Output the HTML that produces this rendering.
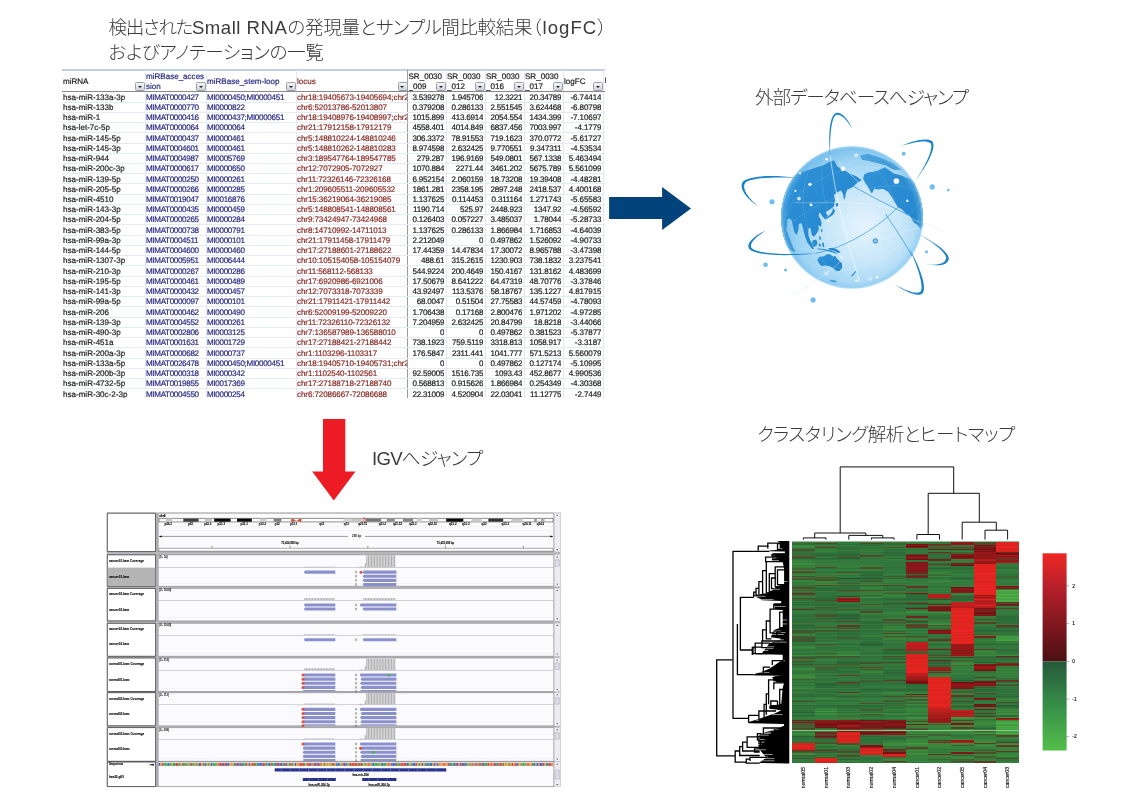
<!DOCTYPE html>
<html lang="ja"><head><meta charset="utf-8"><title>Small RNA</title>
<style>
html,body{margin:0;padding:0;background:#fff}
body{width:1139px;height:809px;position:relative;overflow:hidden;font-family:"Liberation Sans","Noto Sans CJK JP",sans-serif}

.tt{position:absolute;font-family:"Liberation Sans","Noto Sans CJK JP",sans-serif;font-weight:300;color:#3a3a3a;white-space:nowrap;font-size:18.6px;line-height:24px;font-feature-settings:"palt"}

#tbl{position:absolute;overflow:hidden;font:8.05px/10.24px "Liberation Sans",sans-serif;color:#222;white-space:nowrap;background:#fff;-webkit-text-stroke:0.2px;text-rendering:geometricPrecision}
#tbl .hb{position:absolute;left:0;top:0;width:543px;height:2.4px;background:linear-gradient(#c9d6ec,#b4c5e3 60%,#d5dff0)}
#tbl .vl{position:absolute;top:1px;width:1px;height:400px;background:#e3e8f2}
#tbl .vl.fz{background:#9a9aa0}
#tbl .hl{position:absolute;left:0;width:543px;height:1px;background:#e6eaf3}
#tbl .hl.hd{background:#8a8a8a;height:1px}
#tbl .th{position:absolute;line-height:9.6px;font-size:8.05px;overflow:hidden}
#tbl .dd{position:absolute;width:8px;height:7.6px;border:0.6px solid #9a9fa8;border-radius:1.5px;background:linear-gradient(#f4f5f7,#cfd3da)}
#tbl .dd i{position:absolute;left:1.8px;top:2.8px;border:2.2px solid transparent;border-top:2.5px solid #222;border-bottom:0}
#tbl .tr{position:absolute;left:0;height:10.24px;width:100%}
#tbl .tr span{position:absolute;top:1.3px;overflow:hidden;height:10.24px}
#tbl .k{color:#1c1c1c}#tbl .b{color:#2a2a86}#tbl .r{color:#8a2b25}
#tbl .n{text-align:right;color:#1c1c1c;letter-spacing:-0.2px}
#tbl .c1{letter-spacing:-0.33px}#tbl .c2{letter-spacing:-0.3px}#tbl .c3{letter-spacing:-0.1px}#tbl .c8{letter-spacing:-0.1px}

</style></head><body>
<div class="tt" style="left:108.5px;top:15.5px"><span style="letter-spacing:-1.34px">検出された</span><span style="letter-spacing:0.5px">Small RNA</span><span style="letter-spacing:-0.3px">の発現量と</span><span style="letter-spacing:-0.7px">サンプル</span><span style="letter-spacing:-0.4px">間比較結果</span><span style="letter-spacing:1.05px">（logFC）</span></div>
<div class="tt" style="left:108.5px;top:40.5px;letter-spacing:-0.36px">およびアノテーションの一覧</div>
<div class="tt" style="left:755px;top:85.5px;letter-spacing:-1.05px">外部データベースへジャンプ</div>
<div class="tt" style="left:372px;top:446.5px;letter-spacing:-0.75px">IGVへジャンプ</div>
<div class="tt" style="left:757px;top:423px;letter-spacing:-0.47px">クラスタリング解析とヒートマップ</div>
<div id="tbl" style="left:62px;top:69px;width:544px;height:329px">
<div class="hb"></div>
<div class="vl" style="left:82.5px"></div>
<div class="vl" style="left:143.5px"></div>
<div class="vl" style="left:233.5px"></div>
<div class="vl fz" style="left:345.0px"></div>
<div class="vl" style="left:383.5px"></div>
<div class="vl" style="left:422.5px"></div>
<div class="vl" style="left:461.5px"></div>
<div class="vl" style="left:500.5px"></div>
<div class="vl" style="left:540.5px"></div>
<div class="hl" style="top:32.54px"></div>
<div class="hl" style="top:42.78px"></div>
<div class="hl" style="top:53.02px"></div>
<div class="hl" style="top:63.26px"></div>
<div class="hl" style="top:73.50px"></div>
<div class="hl" style="top:83.74px"></div>
<div class="hl" style="top:93.98px"></div>
<div class="hl" style="top:104.22px"></div>
<div class="hl" style="top:114.46px"></div>
<div class="hl" style="top:124.70px"></div>
<div class="hl" style="top:134.94px"></div>
<div class="hl" style="top:145.18px"></div>
<div class="hl" style="top:155.42px"></div>
<div class="hl" style="top:165.66px"></div>
<div class="hl" style="top:175.90px"></div>
<div class="hl" style="top:186.14px"></div>
<div class="hl" style="top:196.38px"></div>
<div class="hl" style="top:206.62px"></div>
<div class="hl" style="top:216.86px"></div>
<div class="hl" style="top:227.10px"></div>
<div class="hl" style="top:237.34px"></div>
<div class="hl" style="top:247.58px"></div>
<div class="hl" style="top:257.82px"></div>
<div class="hl" style="top:268.06px"></div>
<div class="hl" style="top:278.30px"></div>
<div class="hl" style="top:288.54px"></div>
<div class="hl" style="top:298.78px"></div>
<div class="hl" style="top:309.02px"></div>
<div class="hl" style="top:319.26px"></div>
<div class="hl" style="top:329.50px"></div>
<div class="hl hd" style="top:21.80px"></div>
<div class="th k" style="left:1.0px;top:8.4px;width:82.0px">miRNA</div>
<div class="dd" style="left:73.2px;top:12.9px"><i></i></div>
<div class="th b" style="left:84.0px;top:3.3px;width:60.0px">miRBase_acces<br>sion</div>
<div class="dd" style="left:134.2px;top:12.9px"><i></i></div>
<div class="th b" style="left:145.0px;top:8.4px;width:89.0px">miRBase_stem-loop</div>
<div class="dd" style="left:224.2px;top:12.9px"><i></i></div>
<div class="th r" style="left:235.0px;top:8.4px;width:110.5px">locus</div>
<div class="dd" style="left:335.7px;top:12.9px"><i></i></div>
<div class="th k" style="left:346.5px;top:3.3px;width:37.5px">SR_0030<br>_009</div>
<div class="dd" style="left:374.2px;top:12.9px"><i></i></div>
<div class="th k" style="left:385.0px;top:3.3px;width:38.0px">SR_0030<br>_012</div>
<div class="dd" style="left:413.2px;top:12.9px"><i></i></div>
<div class="th k" style="left:424.0px;top:3.3px;width:38.0px">SR_0030<br>_016</div>
<div class="dd" style="left:452.2px;top:12.9px"><i></i></div>
<div class="th k" style="left:463.0px;top:3.3px;width:38.0px">SR_0030<br>_017</div>
<div class="dd" style="left:491.2px;top:12.9px"><i></i></div>
<div class="th k" style="left:502.0px;top:8.4px;width:39.0px">logFC</div>
<div class="dd" style="left:531.2px;top:12.9px"><i></i></div>
<div class="th b" style="left:542.5px;top:6.5px">I</div>
<div class="tr" style="top:22.30px">
<span class="k c0" style="left:1.0px;width:81.5px">hsa-miR-133a-3p</span>
<span class="b c1" style="left:84.0px;width:59.5px">MIMAT0000427</span>
<span class="b c2" style="left:145.0px;width:88.5px">MI0000450;MI0000451</span>
<span class="r c3" style="left:235.0px;width:110.0px">chr18:19405673-19405694;chr2</span>
<span class="n c4" style="left:345.5px;width:36.9px">3.539278</span>
<span class="n c5" style="left:384.0px;width:37.4px">1.945706</span>
<span class="n c6" style="left:423.0px;width:37.4px">12.3221</span>
<span class="n c7" style="left:462.0px;width:37.4px">20.34789</span>
<span class="n c8" style="left:501.0px;width:38.4px">-6.74414</span>
</div>
<div class="tr" style="top:32.54px">
<span class="k c0" style="left:1.0px;width:81.5px">hsa-miR-133b</span>
<span class="b c1" style="left:84.0px;width:59.5px">MIMAT0000770</span>
<span class="b c2" style="left:145.0px;width:88.5px">MI0000822</span>
<span class="r c3" style="left:235.0px;width:110.0px">chr6:52013786-52013807</span>
<span class="n c4" style="left:345.5px;width:36.9px">0.379208</span>
<span class="n c5" style="left:384.0px;width:37.4px">0.286133</span>
<span class="n c6" style="left:423.0px;width:37.4px">2.551545</span>
<span class="n c7" style="left:462.0px;width:37.4px">3.624468</span>
<span class="n c8" style="left:501.0px;width:38.4px">-6.80798</span>
</div>
<div class="tr" style="top:42.78px">
<span class="k c0" style="left:1.0px;width:81.5px">hsa-miR-1</span>
<span class="b c1" style="left:84.0px;width:59.5px">MIMAT0000416</span>
<span class="b c2" style="left:145.0px;width:88.5px">MI0000437;MI0000651</span>
<span class="r c3" style="left:235.0px;width:110.0px">chr18:19408976-19408997;chr2</span>
<span class="n c4" style="left:345.5px;width:36.9px">1015.899</span>
<span class="n c5" style="left:384.0px;width:37.4px">413.6914</span>
<span class="n c6" style="left:423.0px;width:37.4px">2054.554</span>
<span class="n c7" style="left:462.0px;width:37.4px">1434.399</span>
<span class="n c8" style="left:501.0px;width:38.4px">-7.10697</span>
</div>
<div class="tr" style="top:53.02px">
<span class="k c0" style="left:1.0px;width:81.5px">hsa-let-7c-5p</span>
<span class="b c1" style="left:84.0px;width:59.5px">MIMAT0000064</span>
<span class="b c2" style="left:145.0px;width:88.5px">MI0000064</span>
<span class="r c3" style="left:235.0px;width:110.0px">chr21:17912158-17912179</span>
<span class="n c4" style="left:345.5px;width:36.9px">4558.401</span>
<span class="n c5" style="left:384.0px;width:37.4px">4014.849</span>
<span class="n c6" style="left:423.0px;width:37.4px">6837.456</span>
<span class="n c7" style="left:462.0px;width:37.4px">7003.997</span>
<span class="n c8" style="left:501.0px;width:38.4px">-4.1779</span>
</div>
<div class="tr" style="top:63.26px">
<span class="k c0" style="left:1.0px;width:81.5px">hsa-miR-145-5p</span>
<span class="b c1" style="left:84.0px;width:59.5px">MIMAT0000437</span>
<span class="b c2" style="left:145.0px;width:88.5px">MI0000461</span>
<span class="r c3" style="left:235.0px;width:110.0px">chr5:148810224-148810246</span>
<span class="n c4" style="left:345.5px;width:36.9px">306.3372</span>
<span class="n c5" style="left:384.0px;width:37.4px">78.91553</span>
<span class="n c6" style="left:423.0px;width:37.4px">719.1623</span>
<span class="n c7" style="left:462.0px;width:37.4px">370.0772</span>
<span class="n c8" style="left:501.0px;width:38.4px">-5.61727</span>
</div>
<div class="tr" style="top:73.50px">
<span class="k c0" style="left:1.0px;width:81.5px">hsa-miR-145-3p</span>
<span class="b c1" style="left:84.0px;width:59.5px">MIMAT0004601</span>
<span class="b c2" style="left:145.0px;width:88.5px">MI0000461</span>
<span class="r c3" style="left:235.0px;width:110.0px">chr5:148810262-148810283</span>
<span class="n c4" style="left:345.5px;width:36.9px">8.974598</span>
<span class="n c5" style="left:384.0px;width:37.4px">2.632425</span>
<span class="n c6" style="left:423.0px;width:37.4px">9.770551</span>
<span class="n c7" style="left:462.0px;width:37.4px">9.347311</span>
<span class="n c8" style="left:501.0px;width:38.4px">-4.53534</span>
</div>
<div class="tr" style="top:83.74px">
<span class="k c0" style="left:1.0px;width:81.5px">hsa-miR-944</span>
<span class="b c1" style="left:84.0px;width:59.5px">MIMAT0004987</span>
<span class="b c2" style="left:145.0px;width:88.5px">MI0005769</span>
<span class="r c3" style="left:235.0px;width:110.0px">chr3:189547764-189547785</span>
<span class="n c4" style="left:345.5px;width:36.9px">279.287</span>
<span class="n c5" style="left:384.0px;width:37.4px">196.9169</span>
<span class="n c6" style="left:423.0px;width:37.4px">549.0801</span>
<span class="n c7" style="left:462.0px;width:37.4px">567.1338</span>
<span class="n c8" style="left:501.0px;width:38.4px">5.463494</span>
</div>
<div class="tr" style="top:93.98px">
<span class="k c0" style="left:1.0px;width:81.5px">hsa-miR-200c-3p</span>
<span class="b c1" style="left:84.0px;width:59.5px">MIMAT0000617</span>
<span class="b c2" style="left:145.0px;width:88.5px">MI0000650</span>
<span class="r c3" style="left:235.0px;width:110.0px">chr12:7072905-7072927</span>
<span class="n c4" style="left:345.5px;width:36.9px">1070.884</span>
<span class="n c5" style="left:384.0px;width:37.4px">2271.44</span>
<span class="n c6" style="left:423.0px;width:37.4px">3461.202</span>
<span class="n c7" style="left:462.0px;width:37.4px">5675.789</span>
<span class="n c8" style="left:501.0px;width:38.4px">5.561099</span>
</div>
<div class="tr" style="top:104.22px">
<span class="k c0" style="left:1.0px;width:81.5px">hsa-miR-139-5p</span>
<span class="b c1" style="left:84.0px;width:59.5px">MIMAT0000250</span>
<span class="b c2" style="left:145.0px;width:88.5px">MI0000261</span>
<span class="r c3" style="left:235.0px;width:110.0px">chr11:72326146-72326168</span>
<span class="n c4" style="left:345.5px;width:36.9px">6.952154</span>
<span class="n c5" style="left:384.0px;width:37.4px">2.060159</span>
<span class="n c6" style="left:423.0px;width:37.4px">18.73208</span>
<span class="n c7" style="left:462.0px;width:37.4px">19.39408</span>
<span class="n c8" style="left:501.0px;width:38.4px">-4.48281</span>
</div>
<div class="tr" style="top:114.46px">
<span class="k c0" style="left:1.0px;width:81.5px">hsa-miR-205-5p</span>
<span class="b c1" style="left:84.0px;width:59.5px">MIMAT0000266</span>
<span class="b c2" style="left:145.0px;width:88.5px">MI0000285</span>
<span class="r c3" style="left:235.0px;width:110.0px">chr1:209605511-209605532</span>
<span class="n c4" style="left:345.5px;width:36.9px">1861.281</span>
<span class="n c5" style="left:384.0px;width:37.4px">2358.195</span>
<span class="n c6" style="left:423.0px;width:37.4px">2897.248</span>
<span class="n c7" style="left:462.0px;width:37.4px">2418.537</span>
<span class="n c8" style="left:501.0px;width:38.4px">4.400168</span>
</div>
<div class="tr" style="top:124.70px">
<span class="k c0" style="left:1.0px;width:81.5px">hsa-miR-4510</span>
<span class="b c1" style="left:84.0px;width:59.5px">MIMAT0019047</span>
<span class="b c2" style="left:145.0px;width:88.5px">MI0016876</span>
<span class="r c3" style="left:235.0px;width:110.0px">chr15:36219064-36219085</span>
<span class="n c4" style="left:345.5px;width:36.9px">1.137625</span>
<span class="n c5" style="left:384.0px;width:37.4px">0.114453</span>
<span class="n c6" style="left:423.0px;width:37.4px">0.311164</span>
<span class="n c7" style="left:462.0px;width:37.4px">1.271743</span>
<span class="n c8" style="left:501.0px;width:38.4px">-5.65583</span>
</div>
<div class="tr" style="top:134.94px">
<span class="k c0" style="left:1.0px;width:81.5px">hsa-miR-143-3p</span>
<span class="b c1" style="left:84.0px;width:59.5px">MIMAT0000435</span>
<span class="b c2" style="left:145.0px;width:88.5px">MI0000459</span>
<span class="r c3" style="left:235.0px;width:110.0px">chr5:148808541-148808561</span>
<span class="n c4" style="left:345.5px;width:36.9px">1190.714</span>
<span class="n c5" style="left:384.0px;width:37.4px">525.97</span>
<span class="n c6" style="left:423.0px;width:37.4px">2448.923</span>
<span class="n c7" style="left:462.0px;width:37.4px">1347.92</span>
<span class="n c8" style="left:501.0px;width:38.4px">-4.56592</span>
</div>
<div class="tr" style="top:145.18px">
<span class="k c0" style="left:1.0px;width:81.5px">hsa-miR-204-5p</span>
<span class="b c1" style="left:84.0px;width:59.5px">MIMAT0000265</span>
<span class="b c2" style="left:145.0px;width:88.5px">MI0000284</span>
<span class="r c3" style="left:235.0px;width:110.0px">chr9:73424947-73424968</span>
<span class="n c4" style="left:345.5px;width:36.9px">0.126403</span>
<span class="n c5" style="left:384.0px;width:37.4px">0.057227</span>
<span class="n c6" style="left:423.0px;width:37.4px">3.485037</span>
<span class="n c7" style="left:462.0px;width:37.4px">1.78044</span>
<span class="n c8" style="left:501.0px;width:38.4px">-5.28733</span>
</div>
<div class="tr" style="top:155.42px">
<span class="k c0" style="left:1.0px;width:81.5px">hsa-miR-383-5p</span>
<span class="b c1" style="left:84.0px;width:59.5px">MIMAT0000738</span>
<span class="b c2" style="left:145.0px;width:88.5px">MI0000791</span>
<span class="r c3" style="left:235.0px;width:110.0px">chr8:14710992-14711013</span>
<span class="n c4" style="left:345.5px;width:36.9px">1.137625</span>
<span class="n c5" style="left:384.0px;width:37.4px">0.286133</span>
<span class="n c6" style="left:423.0px;width:37.4px">1.866984</span>
<span class="n c7" style="left:462.0px;width:37.4px">1.716853</span>
<span class="n c8" style="left:501.0px;width:38.4px">-4.64039</span>
</div>
<div class="tr" style="top:165.66px">
<span class="k c0" style="left:1.0px;width:81.5px">hsa-miR-99a-3p</span>
<span class="b c1" style="left:84.0px;width:59.5px">MIMAT0004511</span>
<span class="b c2" style="left:145.0px;width:88.5px">MI0000101</span>
<span class="r c3" style="left:235.0px;width:110.0px">chr21:17911458-17911479</span>
<span class="n c4" style="left:345.5px;width:36.9px">2.212049</span>
<span class="n c5" style="left:384.0px;width:37.4px">0</span>
<span class="n c6" style="left:423.0px;width:37.4px">0.497862</span>
<span class="n c7" style="left:462.0px;width:37.4px">1.526092</span>
<span class="n c8" style="left:501.0px;width:38.4px">-4.90733</span>
</div>
<div class="tr" style="top:175.90px">
<span class="k c0" style="left:1.0px;width:81.5px">hsa-miR-144-5p</span>
<span class="b c1" style="left:84.0px;width:59.5px">MIMAT0004600</span>
<span class="b c2" style="left:145.0px;width:88.5px">MI0000460</span>
<span class="r c3" style="left:235.0px;width:110.0px">chr17:27188601-27188622</span>
<span class="n c4" style="left:345.5px;width:36.9px">17.44359</span>
<span class="n c5" style="left:384.0px;width:37.4px">14.47834</span>
<span class="n c6" style="left:423.0px;width:37.4px">17.30072</span>
<span class="n c7" style="left:462.0px;width:37.4px">8.965788</span>
<span class="n c8" style="left:501.0px;width:38.4px">-3.47398</span>
</div>
<div class="tr" style="top:186.14px">
<span class="k c0" style="left:1.0px;width:81.5px">hsa-miR-1307-3p</span>
<span class="b c1" style="left:84.0px;width:59.5px">MIMAT0005951</span>
<span class="b c2" style="left:145.0px;width:88.5px">MI0006444</span>
<span class="r c3" style="left:235.0px;width:110.0px">chr10:105154058-105154079</span>
<span class="n c4" style="left:345.5px;width:36.9px">488.61</span>
<span class="n c5" style="left:384.0px;width:37.4px">315.2615</span>
<span class="n c6" style="left:423.0px;width:37.4px">1230.903</span>
<span class="n c7" style="left:462.0px;width:37.4px">738.1832</span>
<span class="n c8" style="left:501.0px;width:38.4px">3.237541</span>
</div>
<div class="tr" style="top:196.38px">
<span class="k c0" style="left:1.0px;width:81.5px">hsa-miR-210-3p</span>
<span class="b c1" style="left:84.0px;width:59.5px">MIMAT0000267</span>
<span class="b c2" style="left:145.0px;width:88.5px">MI0000286</span>
<span class="r c3" style="left:235.0px;width:110.0px">chr11:568112-568133</span>
<span class="n c4" style="left:345.5px;width:36.9px">544.9224</span>
<span class="n c5" style="left:384.0px;width:37.4px">200.4649</span>
<span class="n c6" style="left:423.0px;width:37.4px">150.4167</span>
<span class="n c7" style="left:462.0px;width:37.4px">131.8162</span>
<span class="n c8" style="left:501.0px;width:38.4px">4.483699</span>
</div>
<div class="tr" style="top:206.62px">
<span class="k c0" style="left:1.0px;width:81.5px">hsa-miR-195-5p</span>
<span class="b c1" style="left:84.0px;width:59.5px">MIMAT0000461</span>
<span class="b c2" style="left:145.0px;width:88.5px">MI0000489</span>
<span class="r c3" style="left:235.0px;width:110.0px">chr17:6920986-6921006</span>
<span class="n c4" style="left:345.5px;width:36.9px">17.50679</span>
<span class="n c5" style="left:384.0px;width:37.4px">8.641222</span>
<span class="n c6" style="left:423.0px;width:37.4px">64.47319</span>
<span class="n c7" style="left:462.0px;width:37.4px">48.70776</span>
<span class="n c8" style="left:501.0px;width:38.4px">-3.37846</span>
</div>
<div class="tr" style="top:216.86px">
<span class="k c0" style="left:1.0px;width:81.5px">hsa-miR-141-3p</span>
<span class="b c1" style="left:84.0px;width:59.5px">MIMAT0000432</span>
<span class="b c2" style="left:145.0px;width:88.5px">MI0000457</span>
<span class="r c3" style="left:235.0px;width:110.0px">chr12:7073318-7073339</span>
<span class="n c4" style="left:345.5px;width:36.9px">43.92497</span>
<span class="n c5" style="left:384.0px;width:37.4px">113.5376</span>
<span class="n c6" style="left:423.0px;width:37.4px">58.18767</span>
<span class="n c7" style="left:462.0px;width:37.4px">135.1227</span>
<span class="n c8" style="left:501.0px;width:38.4px">4.817915</span>
</div>
<div class="tr" style="top:227.10px">
<span class="k c0" style="left:1.0px;width:81.5px">hsa-miR-99a-5p</span>
<span class="b c1" style="left:84.0px;width:59.5px">MIMAT0000097</span>
<span class="b c2" style="left:145.0px;width:88.5px">MI0000101</span>
<span class="r c3" style="left:235.0px;width:110.0px">chr21:17911421-17911442</span>
<span class="n c4" style="left:345.5px;width:36.9px">68.0047</span>
<span class="n c5" style="left:384.0px;width:37.4px">0.51504</span>
<span class="n c6" style="left:423.0px;width:37.4px">27.75583</span>
<span class="n c7" style="left:462.0px;width:37.4px">44.57459</span>
<span class="n c8" style="left:501.0px;width:38.4px">-4.78093</span>
</div>
<div class="tr" style="top:237.34px">
<span class="k c0" style="left:1.0px;width:81.5px">hsa-miR-206</span>
<span class="b c1" style="left:84.0px;width:59.5px">MIMAT0000462</span>
<span class="b c2" style="left:145.0px;width:88.5px">MI0000490</span>
<span class="r c3" style="left:235.0px;width:110.0px">chr6:52009199-52009220</span>
<span class="n c4" style="left:345.5px;width:36.9px">1.706438</span>
<span class="n c5" style="left:384.0px;width:37.4px">0.17168</span>
<span class="n c6" style="left:423.0px;width:37.4px">2.800476</span>
<span class="n c7" style="left:462.0px;width:37.4px">1.971202</span>
<span class="n c8" style="left:501.0px;width:38.4px">-4.97285</span>
</div>
<div class="tr" style="top:247.58px">
<span class="k c0" style="left:1.0px;width:81.5px">hsa-miR-139-3p</span>
<span class="b c1" style="left:84.0px;width:59.5px">MIMAT0004552</span>
<span class="b c2" style="left:145.0px;width:88.5px">MI0000261</span>
<span class="r c3" style="left:235.0px;width:110.0px">chr11:72326110-72326132</span>
<span class="n c4" style="left:345.5px;width:36.9px">7.204959</span>
<span class="n c5" style="left:384.0px;width:37.4px">2.632425</span>
<span class="n c6" style="left:423.0px;width:37.4px">20.84799</span>
<span class="n c7" style="left:462.0px;width:37.4px">18.8218</span>
<span class="n c8" style="left:501.0px;width:38.4px">-3.44066</span>
</div>
<div class="tr" style="top:257.82px">
<span class="k c0" style="left:1.0px;width:81.5px">hsa-miR-490-3p</span>
<span class="b c1" style="left:84.0px;width:59.5px">MIMAT0002806</span>
<span class="b c2" style="left:145.0px;width:88.5px">MI0003125</span>
<span class="r c3" style="left:235.0px;width:110.0px">chr7:136587989-136588010</span>
<span class="n c4" style="left:345.5px;width:36.9px">0</span>
<span class="n c5" style="left:384.0px;width:37.4px">0</span>
<span class="n c6" style="left:423.0px;width:37.4px">0.497862</span>
<span class="n c7" style="left:462.0px;width:37.4px">0.381523</span>
<span class="n c8" style="left:501.0px;width:38.4px">-5.37877</span>
</div>
<div class="tr" style="top:268.06px">
<span class="k c0" style="left:1.0px;width:81.5px">hsa-miR-451a</span>
<span class="b c1" style="left:84.0px;width:59.5px">MIMAT0001631</span>
<span class="b c2" style="left:145.0px;width:88.5px">MI0001729</span>
<span class="r c3" style="left:235.0px;width:110.0px">chr17:27188421-27188442</span>
<span class="n c4" style="left:345.5px;width:36.9px">738.1923</span>
<span class="n c5" style="left:384.0px;width:37.4px">759.5119</span>
<span class="n c6" style="left:423.0px;width:37.4px">3318.813</span>
<span class="n c7" style="left:462.0px;width:37.4px">1058.917</span>
<span class="n c8" style="left:501.0px;width:38.4px">-3.3187</span>
</div>
<div class="tr" style="top:278.30px">
<span class="k c0" style="left:1.0px;width:81.5px">hsa-miR-200a-3p</span>
<span class="b c1" style="left:84.0px;width:59.5px">MIMAT0000682</span>
<span class="b c2" style="left:145.0px;width:88.5px">MI0000737</span>
<span class="r c3" style="left:235.0px;width:110.0px">chr1:1103296-1103317</span>
<span class="n c4" style="left:345.5px;width:36.9px">176.5847</span>
<span class="n c5" style="left:384.0px;width:37.4px">2311.441</span>
<span class="n c6" style="left:423.0px;width:37.4px">1041.777</span>
<span class="n c7" style="left:462.0px;width:37.4px">571.5213</span>
<span class="n c8" style="left:501.0px;width:38.4px">5.560079</span>
</div>
<div class="tr" style="top:288.54px">
<span class="k c0" style="left:1.0px;width:81.5px">hsa-miR-133a-5p</span>
<span class="b c1" style="left:84.0px;width:59.5px">MIMAT0026478</span>
<span class="b c2" style="left:145.0px;width:88.5px">MI0000450;MI0000451</span>
<span class="r c3" style="left:235.0px;width:110.0px">chr18:19405710-19405731;chr2</span>
<span class="n c4" style="left:345.5px;width:36.9px">0</span>
<span class="n c5" style="left:384.0px;width:37.4px">0</span>
<span class="n c6" style="left:423.0px;width:37.4px">0.497862</span>
<span class="n c7" style="left:462.0px;width:37.4px">0.127174</span>
<span class="n c8" style="left:501.0px;width:38.4px">-5.10995</span>
</div>
<div class="tr" style="top:298.78px">
<span class="k c0" style="left:1.0px;width:81.5px">hsa-miR-200b-3p</span>
<span class="b c1" style="left:84.0px;width:59.5px">MIMAT0000318</span>
<span class="b c2" style="left:145.0px;width:88.5px">MI0000342</span>
<span class="r c3" style="left:235.0px;width:110.0px">chr1:1102540-1102561</span>
<span class="n c4" style="left:345.5px;width:36.9px">92.59005</span>
<span class="n c5" style="left:384.0px;width:37.4px">1516.735</span>
<span class="n c6" style="left:423.0px;width:37.4px">1093.43</span>
<span class="n c7" style="left:462.0px;width:37.4px">452.8677</span>
<span class="n c8" style="left:501.0px;width:38.4px">4.990536</span>
</div>
<div class="tr" style="top:309.02px">
<span class="k c0" style="left:1.0px;width:81.5px">hsa-miR-4732-5p</span>
<span class="b c1" style="left:84.0px;width:59.5px">MIMAT0019855</span>
<span class="b c2" style="left:145.0px;width:88.5px">MI0017369</span>
<span class="r c3" style="left:235.0px;width:110.0px">chr17:27188718-27188740</span>
<span class="n c4" style="left:345.5px;width:36.9px">0.568813</span>
<span class="n c5" style="left:384.0px;width:37.4px">0.915626</span>
<span class="n c6" style="left:423.0px;width:37.4px">1.866984</span>
<span class="n c7" style="left:462.0px;width:37.4px">0.254349</span>
<span class="n c8" style="left:501.0px;width:38.4px">-4.30368</span>
</div>
<div class="tr" style="top:319.26px">
<span class="k c0" style="left:1.0px;width:81.5px">hsa-miR-30c-2-3p</span>
<span class="b c1" style="left:84.0px;width:59.5px">MIMAT0004550</span>
<span class="b c2" style="left:145.0px;width:88.5px">MI0000254</span>
<span class="r c3" style="left:235.0px;width:110.0px">chr6:72086667-72086688</span>
<span class="n c4" style="left:345.5px;width:36.9px">22.31009</span>
<span class="n c5" style="left:384.0px;width:37.4px">4.520904</span>
<span class="n c6" style="left:423.0px;width:37.4px">22.03041</span>
<span class="n c7" style="left:462.0px;width:37.4px">11.12775</span>
<span class="n c8" style="left:501.0px;width:38.4px">-2.7449</span>
</div>
</div>
<svg style="position:absolute;left:0;top:0" width="1139" height="809" viewBox="0 0 1139 809">
<polygon points="609.1,196.9 662.1,196.9 662.1,187 691,208.5 662.1,230.1 662.1,219 609.1,219" fill="#03437c"/>
<polygon points="323,419 345.3,419 345.3,471.6 355.5,471.6 333.8,500.6 312.2,471.6 323,471.6" fill="#ed1c24"/>
</svg>
<svg style="position:absolute;left:0;top:0" width="1139" height="809" viewBox="0 0 1139 809">
<defs>
<radialGradient id="oc" cx="0.58" cy="0.56" r="0.6">
<stop offset="0" stop-color="#e6f4fd"/><stop offset="0.45" stop-color="#c6e6f9"/><stop offset="0.8" stop-color="#9bd2f3"/><stop offset="1" stop-color="#6bb9ea"/>
</radialGradient>
<radialGradient id="rim" cx="0.5" cy="0.5" r="0.5">
<stop offset="0.9" stop-color="#8ccbf1" stop-opacity="0"/><stop offset="0.97" stop-color="#7cc3ee" stop-opacity="0.35"/><stop offset="1" stop-color="#b5defa" stop-opacity="0.85"/>
</radialGradient>
<radialGradient id="glow" cx="0.5" cy="0.5" r="0.5">
<stop offset="0.9" stop-color="#9fd4f5" stop-opacity="0.8"/><stop offset="1" stop-color="#ffffff" stop-opacity="0"/>
</radialGradient>
<clipPath id="gc"><circle cx="852" cy="217.5" r="71"/></clipPath>
<linearGradient id="ld" x1="0" y1="0" x2="1" y2="1"><stop offset="0" stop-color="#2f93d8"/><stop offset="1" stop-color="#2384cb"/></linearGradient>
</defs>
<circle cx="852" cy="217.5" r="74" fill="url(#glow)"/>
<circle cx="852" cy="217.5" r="71" fill="url(#oc)"/>
<g clip-path="url(#gc)">
<g transform="translate(775,140) scale(0.1977)" fill="url(#ld)">
<!-- Asia -->
<path d="M20,300 L60,200 L96,180 L141,160 L197,143 L248,126 L281,108 L300,104 L316,135 L349,152 L383,172 L416,186 L439,204 L418,215 L400,232 L383,244 L366,250 L360,266 L354,294 L349,304 L343,272 L334,256 L315,264 L298,278 L304,304 L298,336 L281,349 L256,366 L268,384 L254,402 L238,384 L226,366 L220,384 L230,400 L236,420 L232,440 L219,430 L222,452 L214,468 L197,489 L186,481 L180,446 L169,446 L169,483 L180,511 L197,551 L188,551 L163,517 L152,489 L141,444 L135,421 L121,424 L118,455 L110,481 L98,466 L90,433 L84,405 L70,396 L62,402 L59,455 L70,489 L90,540 L104,568 L84,560 L22,500 Z"/>
<!-- North America -->
<path d="M450,176 L470,165 L500,160 L530,150 L555,138 L575,150 L600,170 L640,180 L690,200 L760,260 L780,420 L735,450 L722,430 L705,420 L692,402 L682,382 L662,372 L642,352 L622,340 L604,312 L592,290 L572,262 L546,246 L522,250 L502,246 L490,272 L480,256 L470,236 L456,216 L446,196 Z"/>
<!-- Arctic / Greenland -->
<path d="M430,78 L470,70 L520,85 L560,100 L600,120 L640,150 L600,150 L560,128 L520,118 L480,108 L440,100 Z" opacity="0.75"/>
<!-- Australia -->
<path d="M214,607 L225,590 L248,588 L264,576 L281,579 L293,590 L304,585 L315,602 L338,624 L340,647 L326,663 L309,661 L293,647 L276,638 L253,635 L236,638 L222,624 Z"/>
<!-- Japan -->
<path d="M293,343 L304,358 L296,376 L280,388 L262,398 L254,404 L264,390 L281,374 L290,360 Z M306,322 L318,318 L322,330 L310,338 Z"/>
<!-- islands -->
<path d="M186,517 L194,506 L208,505 L215,517 L211,534 L197,541 L188,533 Z M214,548 L248,551 L281,559 L315,571 L312,575 L279,565 L245,557 L214,553 Z M270,548 L293,545 L315,554 L332,568 L321,571 L301,562 L276,557 Z M224,485 L231,489 L232,505 L226,507 L223,495 Z M221,523 L231,526 L232,537 L224,540 Z M238,520 L246,518 L250,540 L242,544 Z M232,452 L238,450 L240,464 L234,466 Z"/>
<!-- NZ -->
<path d="M385,686 L394,678 L406,662 L411,666 L400,680 L389,690 Z"/>
<path d="M276,708 L298,707 L315,717 L304,721 L281,717 Z" opacity="0.8"/>
</g>
<!-- graticule -->
<g fill="none" stroke="#ffffff" stroke-opacity="0.2" stroke-width="0.5">
<ellipse cx="852" cy="217.5" rx="71" ry="24" transform="rotate(-18 852 217.5)"/>
<ellipse cx="852" cy="217.5" rx="71" ry="48" transform="rotate(-18 852 217.5)"/>
<ellipse cx="852" cy="217.5" rx="22" ry="71" transform="rotate(-18 852 217.5)"/>
<ellipse cx="852" cy="217.5" rx="46" ry="71" transform="rotate(-18 852 217.5)"/>
</g>
<circle cx="852" cy="217.5" r="71" fill="url(#rim)"/>
<!-- inner light lines -->
<g transform="translate(730,100) scale(0.2596)" fill="none" stroke-linecap="round">
<path d="M386,215 C400,330 440,520 500,700" stroke="#fff" stroke-opacity="0.75" stroke-width="3"/>
<path d="M420,240 C500,330 600,420 730,470" stroke="#fff" stroke-opacity="0.6" stroke-width="2.5"/>
<path d="M250,395 C350,400 520,380 640,425 " stroke="#fff" stroke-opacity="0.5" stroke-width="2"/>
<path d="M560,545 C620,520 680,505 735,490" stroke="#fff" stroke-opacity="0.6" stroke-width="2"/>
<path d="M330,590 C430,575 560,500 640,420 C680,380 705,340 722,300" stroke="#2f93d8" stroke-opacity="0.85" stroke-width="3"/>
<path d="M470,330 C560,380 640,420 700,450" stroke="#2f93d8" stroke-opacity="0.8" stroke-width="3.5"/>
<path d="M600,440 C640,500 680,560 700,600" stroke="#2f93d8" stroke-opacity="0.8" stroke-width="3.5"/>
<path d="M260,740 C330,700 400,650 450,600" stroke="#fff" stroke-opacity="0.6" stroke-width="2"/>
</g>
</g>
<g transform="translate(730,100) scale(0.2596)">
<!-- orbit tips: crescents -->
<g fill="#1d84c8">
<path d="M386,218 C378,130 384,60 408,50 C432,44 456,78 472,112 C452,80 430,52 410,57 C392,64 384,130 386,218Z"/>
<path d="M252,300 C180,288 90,290 55,310 C30,328 50,372 112,412 C62,372 42,334 62,316 C95,298 180,296 252,300Z"/>
<path d="M142,500 C100,520 62,548 72,570 C84,596 200,606 330,590 C200,598 96,590 82,568 C74,550 104,524 142,500Z"/>
<path d="M656,178 C700,158 760,142 780,160 C796,184 760,250 716,310 C756,248 786,186 772,166 C756,152 700,164 656,178Z"/>
<path d="M728,518 C790,548 850,590 842,616 C834,638 800,640 758,634 C800,636 826,630 832,612 C838,592 786,550 728,518Z"/>
<path d="M690,570 C730,640 760,720 742,744 C724,760 680,742 628,706 C680,738 720,750 734,738 C748,716 722,640 690,570Z"/>
</g>
<g fill="none" stroke="#bfe0f5" stroke-width="2" stroke-linecap="round" stroke-opacity="0.7">
<path d="M735,470 C770,480 800,495 820,510"/>
<path d="M240,750 C280,730 310,712 340,690"/>
</g>
<!-- dots -->
<g fill="#6ebfef">
<circle cx="669" cy="207" r="7.5"/><circle cx="779" cy="335" r="10"/><circle cx="841" cy="347" r="5.5"/>
<circle cx="162" cy="392" r="10"/><circle cx="137" cy="635" r="9"/><circle cx="214" cy="655" r="6"/>
<circle cx="320" cy="770" r="10"/><circle cx="757" cy="585" r="6"/>
</g>
<circle cx="560" cy="543" r="8.5" fill="#8cc8ee" stroke="#2a86cc" stroke-width="3.5"/>
<g fill="#fff">
<circle cx="435" cy="265" r="9" opacity="0.95"/><circle cx="308" cy="325" r="6.5"/><circle cx="641" cy="312" r="11" opacity="0.95"/>
<circle cx="266" cy="380" r="7" opacity="0.8"/><circle cx="312" cy="404" r="5.5"/><circle cx="683" cy="388" r="4.5"/>
<circle cx="372" cy="228" r="5"/><circle cx="486" cy="213" r="7" opacity="0.7"/><circle cx="567" cy="683" r="4.5"/>
<circle cx="487" cy="695" r="4.5"/><circle cx="430" cy="606" r="4"/><circle cx="252" cy="350" r="4"/><circle cx="380" cy="465" r="4"/>
<circle cx="540" cy="690" r="7" opacity="0.5"/><circle cx="372" cy="668" r="8" opacity="0.4"/><circle cx="270" cy="282" r="4"/>
</g>
</g>
</svg>
<svg style="position:absolute;left:0;top:0" width="1139" height="809" viewBox="0 0 1139 809" font-family="Liberation Sans,sans-serif" stroke-linejoin="round"><g stroke="#111" stroke-width="0" id="igvg">
<rect x="106.8" y="512.5" width="453.90000000000003" height="274.5" fill="#b9b9bd"/>
<rect x="107.3" y="513.2" width="48.3" height="38.39999999999998" fill="#fff" stroke="#3a3a3a" stroke-width="0.8"/>
<rect x="158.2" y="513.2" width="395.59999999999997" height="38.39999999999998" fill="#fbfbfe" stroke="#6a6a6e" stroke-width="0.45"/>
<rect x="554.4" y="513.2" width="5.800000000000068" height="38.39999999999998" fill="#ececf2"/>
<path d="M556.3,515.8000000000001 l1,-1.4 l1,1.4z M556.3,549.0 l1,1.4 l1,-1.4z" fill="#555"/>
<text x="159.2" y="516.6" font-size="3" font-weight="bold" fill="#111" stroke-width="0.15">chr9</text>
<rect x="159.0" y="518.4" width="393.99999999999994" height="3.5" fill="#fff" stroke="#333" stroke-width="0.55"/>
<rect x="166.2" y="518.6" width="6.4" height="3.1" fill="#c8c8c8"/>
<rect x="183.3" y="518.6" width="15.3" height="3.1" fill="#3c3c3c"/>
<rect x="205.0" y="518.6" width="6.8" height="3.1" fill="#c4c4c4"/>
<rect x="214.2" y="518.6" width="16.4" height="3.1" fill="#0a0a0a"/>
<rect x="237.0" y="518.6" width="14.8" height="3.1" fill="#0a0a0a"/>
<rect x="259.8" y="518.6" width="6.8" height="3.1" fill="#cfcfcf"/>
<rect x="273.5" y="518.6" width="8.0" height="3.1" fill="#808080"/>
<rect x="343.2" y="518.6" width="8.0" height="3.1" fill="#d0d0d0"/>
<rect x="351.1" y="518.6" width="-0.9" height="3.1" fill="#9a9a9a"/>
<rect x="351.4" y="518.6" width="11.4" height="3.1" fill="#c6c6c6"/>
<rect x="365.6" y="518.6" width="15.5" height="3.1" fill="#777"/>
<rect x="386.8" y="518.6" width="8.0" height="3.1" fill="#8c8c8c"/>
<rect x="402.8" y="518.6" width="10.3" height="3.1" fill="#888"/>
<rect x="416.5" y="518.6" width="5.7" height="3.1" fill="#d4d4d4"/>
<rect x="429.0" y="518.6" width="9.1" height="3.1" fill="#c2c2c2"/>
<rect x="446.2" y="518.6" width="17.1" height="3.1" fill="#080808"/>
<rect x="471.3" y="518.6" width="10.3" height="3.1" fill="#c8c8c8"/>
<rect x="488.4" y="518.6" width="14.8" height="3.1" fill="#333"/>
<rect x="511.2" y="518.6" width="11.4" height="3.1" fill="#c6c6c6"/>
<rect x="534.1" y="518.6" width="2.7" height="3.1" fill="#999"/>
<rect x="540.9" y="518.6" width="3.7" height="3.1" fill="#aaa"/>
<path d="M291.34703196347033,518.4 L296.34703196347033,520.15 L291.34703196347033,521.9z M301.34703196347033,518.4 L296.34703196347033,520.15 L301.34703196347033,521.9z" fill="#d8431f"/>
<rect x="363.7" y="517.8" width="1.2" height="4.7" fill="none" stroke="#e02a10" stroke-width="0.5"/>
<text x="164.4" y="524.6" font-size="2.9" font-weight="bold" fill="#111" stroke-width="0.12">p24.2</text>
<text x="187.9" y="524.6" font-size="2.9" font-weight="bold" fill="#111" stroke-width="0.12">p23</text>
<text x="203.9" y="524.6" font-size="2.9" font-weight="bold" fill="#111" stroke-width="0.12">p22.2</text>
<text x="217.6" y="524.6" font-size="2.9" font-weight="bold" fill="#111" stroke-width="0.12">p21.3</text>
<text x="240.4" y="524.6" font-size="2.9" font-weight="bold" fill="#111" stroke-width="0.12">p21.1</text>
<text x="258.7" y="524.6" font-size="2.9" font-weight="bold" fill="#111" stroke-width="0.12">p13.2</text>
<text x="274.7" y="524.6" font-size="2.9" font-weight="bold" fill="#111" stroke-width="0.12">p12</text>
<text x="290.0" y="524.6" font-size="2.9" font-weight="bold" fill="#111" stroke-width="0.12">p11.1</text>
<text x="319.2" y="524.6" font-size="2.9" font-weight="bold" fill="#111" stroke-width="0.12">q12</text>
<text x="343.8" y="524.6" font-size="2.9" font-weight="bold" fill="#111" stroke-width="0.12">q13</text>
<text x="358.3" y="524.6" font-size="2.9" font-weight="bold" fill="#111" stroke-width="0.12">q21.11</text>
<text x="378.8" y="524.6" font-size="2.9" font-weight="bold" fill="#111" stroke-width="0.12">q21.2</text>
<text x="393.0" y="524.6" font-size="2.9" font-weight="bold" fill="#111" stroke-width="0.12">q21.32</text>
<text x="409.2" y="524.6" font-size="2.9" font-weight="bold" fill="#111" stroke-width="0.12">q22.2</text>
<text x="427.9" y="524.6" font-size="2.9" font-weight="bold" fill="#111" stroke-width="0.12">q22.33</text>
<text x="449.1" y="524.6" font-size="2.9" font-weight="bold" fill="#111" stroke-width="0.12">q31.2</text>
<text x="462.1" y="524.6" font-size="2.9" font-weight="bold" fill="#111" stroke-width="0.12">q31.3</text>
<text x="481.6" y="524.6" font-size="2.9" font-weight="bold" fill="#111" stroke-width="0.12">q32</text>
<text x="501.6" y="524.6" font-size="2.9" font-weight="bold" fill="#111" stroke-width="0.12">q33.2</text>
<text x="522.6" y="524.6" font-size="2.9" font-weight="bold" fill="#111" stroke-width="0.12">q34.11</text>
<text x="536.8" y="524.6" font-size="2.9" font-weight="bold" fill="#111" stroke-width="0.12">q34.2</text>
<path d="M159.2,536.4 H348.0 M365.1,536.4 H552.8" stroke="#222" stroke-width="0.45" fill="none"/>
<path d="M158.79999999999998,536.4 l3,-1 v2z M553.1999999999999,536.4 l-3,-1 v2z" fill="#111"/>
<text x="356.7" y="537.4" font-size="2.9" font-weight="bold" fill="#111" text-anchor="middle">258 bp</text>
<rect x="211.7" y="545.6" width="0.45" height="2.6" fill="#222"/>
<rect x="289.8" y="545.6" width="0.45" height="2.6" fill="#222"/>
<rect x="367.7" y="545.6" width="0.45" height="2.6" fill="#222"/>
<rect x="445.3" y="545.6" width="0.45" height="2.6" fill="#222"/>
<rect x="522.9" y="545.6" width="0.45" height="2.6" fill="#222"/>
<text x="290.0" y="543.8" font-size="2.7" font-weight="bold" fill="#111" stroke-width="0.1" text-anchor="middle">75,424,900 bp</text>
<text x="445.5" y="543.8" font-size="2.7" font-weight="bold" fill="#111" stroke-width="0.1" text-anchor="middle">75,425,000 bp</text>
<rect x="158.79999999999998" y="548.3" width="394.4" height="2.9" fill="#fff" stroke="#555" stroke-width="0.5"/>
<rect x="158.2" y="530" width="395.59999999999997" height="0.3" fill="#e2e2ea"/>
<rect x="158.2" y="526.6" width="395.59999999999997" height="0.3" fill="#e2e2ea"/>
<rect x="107.3" y="554.8" width="48.3" height="31.5" fill="#fff" stroke="#3a3a3a" stroke-width="0.8"/>
<rect x="107.7" y="567.6" width="47.5" height="18.299999999999933" fill="#b4b4b4"/>
<text x="108.89999999999999" y="561.6999999999999" font-size="3.05" font-weight="bold" fill="#111" stroke-width="0.12">cancer01.bam Coverage</text>
<text x="108.89999999999999" y="577.8000000000001" font-size="3.05" font-weight="bold" fill="#111" stroke-width="0.12">cancer01.bam</text>
<rect x="158.2" y="554.8" width="395.59999999999997" height="31.5" fill="#fbfbfe" stroke="#6a6a6e" stroke-width="0.45"/>
<rect x="158.2" y="567.35" width="395.59999999999997" height="0.5" fill="#a8a8ac"/>
<rect x="554.4" y="554.8" width="5.800000000000068" height="31.5" fill="#ececf2"/>
<path d="M556.3,557.4 l1,-1.4 l1,1.4z M556.3,583.6999999999999 l1,1.4 l1,-1.4z" fill="#555"/>
<text x="159.39999999999998" y="557.6999999999999" font-size="2.6" fill="#111" stroke-width="0.1">[0 - 14]</text>
<rect x="555.1999999999999" y="559.8" width="4.200000000000069" height="6.5" fill="#dcdce4" stroke="#9a9aa6" stroke-width="0.4"/>
<rect x="304.20" y="566.70" width="1.19" height="0.60" fill="#b3b3b3"/>
<rect x="305.74" y="566.70" width="1.19" height="0.60" fill="#b3b3b3"/>
<rect x="307.27" y="566.70" width="1.19" height="0.60" fill="#b3b3b3"/>
<rect x="308.81" y="566.70" width="1.19" height="0.60" fill="#b3b3b3"/>
<rect x="310.34" y="566.70" width="1.19" height="0.60" fill="#b3b3b3"/>
<rect x="311.88" y="566.70" width="1.19" height="0.60" fill="#b3b3b3"/>
<rect x="313.41" y="566.70" width="1.19" height="0.60" fill="#b3b3b3"/>
<rect x="314.94" y="566.70" width="1.19" height="0.60" fill="#b3b3b3"/>
<rect x="316.48" y="566.70" width="1.19" height="0.60" fill="#b3b3b3"/>
<rect x="318.01" y="566.70" width="1.19" height="0.60" fill="#b3b3b3"/>
<rect x="319.55" y="566.70" width="1.19" height="0.60" fill="#b3b3b3"/>
<rect x="321.09" y="566.70" width="1.19" height="0.60" fill="#b3b3b3"/>
<rect x="322.62" y="566.70" width="1.19" height="0.60" fill="#b3b3b3"/>
<rect x="324.16" y="566.70" width="1.19" height="0.60" fill="#b3b3b3"/>
<rect x="325.69" y="566.70" width="1.19" height="0.60" fill="#b3b3b3"/>
<rect x="327.23" y="566.70" width="1.19" height="0.60" fill="#b3b3b3"/>
<rect x="328.76" y="566.70" width="1.19" height="0.60" fill="#b3b3b3"/>
<rect x="330.30" y="566.70" width="1.19" height="0.60" fill="#b3b3b3"/>
<rect x="331.83" y="566.70" width="1.19" height="0.60" fill="#b3b3b3"/>
<rect x="333.37" y="566.70" width="1.19" height="0.60" fill="#b3b3b3"/>
<rect x="363.20" y="566.70" width="1.19" height="0.60" fill="#b3b3b3"/>
<rect x="364.74" y="563.10" width="1.19" height="4.20" fill="#b3b3b3"/>
<rect x="366.29" y="555.30" width="1.19" height="12.00" fill="#b3b3b3"/>
<rect x="367.83" y="555.30" width="1.19" height="12.00" fill="#b3b3b3"/>
<rect x="369.37" y="555.30" width="1.19" height="12.00" fill="#b3b3b3"/>
<rect x="370.91" y="555.30" width="1.19" height="12.00" fill="#b3b3b3"/>
<rect x="372.46" y="555.30" width="1.19" height="12.00" fill="#b3b3b3"/>
<rect x="374.00" y="555.30" width="1.19" height="12.00" fill="#b3b3b3"/>
<rect x="375.54" y="555.30" width="1.19" height="12.00" fill="#b3b3b3"/>
<rect x="377.09" y="555.30" width="1.19" height="12.00" fill="#b3b3b3"/>
<rect x="378.63" y="555.30" width="1.19" height="12.00" fill="#b3b3b3"/>
<rect x="380.17" y="555.30" width="1.19" height="12.00" fill="#b3b3b3"/>
<rect x="381.71" y="555.30" width="1.19" height="12.00" fill="#b3b3b3"/>
<rect x="383.26" y="555.30" width="1.19" height="12.00" fill="#b3b3b3"/>
<rect x="384.80" y="555.30" width="1.19" height="12.00" fill="#b3b3b3"/>
<rect x="386.34" y="555.30" width="1.19" height="12.00" fill="#b3b3b3"/>
<rect x="387.89" y="555.30" width="1.19" height="12.00" fill="#b3b3b3"/>
<rect x="389.43" y="555.30" width="1.19" height="12.00" fill="#b3b3b3"/>
<rect x="390.97" y="555.30" width="1.19" height="12.00" fill="#b3b3b3"/>
<rect x="392.51" y="555.30" width="1.19" height="12.00" fill="#b3b3b3"/>
<rect x="394.06" y="555.30" width="1.19" height="12.00" fill="#b3b3b3"/>
<rect x="359.6" y="566.7" width="3" height="0.6" fill="#c8a0a0"/>
<rect x="158.2" y="583.0999999999999" width="395.59999999999997" height="0.3" fill="#dcdce6"/>
<path d="M305.0,570.60 H335.3 V573.70 H305.0 L303.8,572.15Z" fill="#8a90cb"/>
<path d="M363.8,570.60 H396.4 V573.70 H363.8 L362.6,572.15Z" fill="#8a90cb"/>
<path d="M355.6,570.90 v2.4 M356.6,570.90 v2.4" stroke="#555" stroke-width="0.45" fill="none"/>
<path d="M363.8,574.72 H396.4 V577.82 H363.8 L362.6,576.27Z" fill="#8a90cb"/>
<path d="M355.6,575.02 v2.4 M356.6,575.02 v2.4" stroke="#555" stroke-width="0.45" fill="none"/>
<path d="M363.8,578.84 H396.4 V581.94 H363.8 L362.6,580.39Z" fill="#8a90cb"/>
<path d="M355.6,579.14 v2.4 M356.6,579.14 v2.4" stroke="#555" stroke-width="0.45" fill="none"/>
<path d="M363.8,582.96 H396.4 V586.00 H363.8 L362.6,584.48Z" fill="#8a90cb"/>
<path d="M355.6,583.26 v2.4 M356.6,583.26 v2.4" stroke="#555" stroke-width="0.45" fill="none"/>
<circle cx="361.0" cy="572.15" r="1.5" fill="#d9534a"/>
<rect x="107.3" y="588.4" width="48.3" height="32.5" fill="#fff" stroke="#3a3a3a" stroke-width="0.8"/>
<text x="108.89999999999999" y="595.3" font-size="3.05" font-weight="bold" fill="#111" stroke-width="0.12">cancer02.bam Coverage</text>
<text x="108.89999999999999" y="610.6" font-size="3.05" font-weight="bold" fill="#111" stroke-width="0.12">cancer02.bam</text>
<rect x="158.2" y="588.4" width="395.59999999999997" height="32.5" fill="#fbfbfe" stroke="#6a6a6e" stroke-width="0.45"/>
<rect x="158.2" y="600.15" width="395.59999999999997" height="0.5" fill="#a8a8ac"/>
<rect x="554.4" y="588.4" width="5.800000000000068" height="32.5" fill="#ececf2"/>
<path d="M556.3,591.0 l1,-1.4 l1,1.4z M556.3,618.3 l1,1.4 l1,-1.4z" fill="#555"/>
<text x="159.39999999999998" y="591.3" font-size="2.6" fill="#111" stroke-width="0.1">[0 - 10.00]</text>
<rect x="304.20" y="598.10" width="1.19" height="2.00" fill="#b3b3b3"/>
<rect x="305.74" y="598.10" width="1.19" height="2.00" fill="#b3b3b3"/>
<rect x="307.27" y="598.10" width="1.19" height="2.00" fill="#b3b3b3"/>
<rect x="308.81" y="598.10" width="1.19" height="2.00" fill="#b3b3b3"/>
<rect x="310.34" y="598.10" width="1.19" height="2.00" fill="#b3b3b3"/>
<rect x="311.88" y="598.10" width="1.19" height="2.00" fill="#b3b3b3"/>
<rect x="313.41" y="598.10" width="1.19" height="2.00" fill="#b3b3b3"/>
<rect x="314.94" y="598.10" width="1.19" height="2.00" fill="#b3b3b3"/>
<rect x="316.48" y="598.10" width="1.19" height="2.00" fill="#b3b3b3"/>
<rect x="318.01" y="598.10" width="1.19" height="2.00" fill="#b3b3b3"/>
<rect x="319.55" y="598.10" width="1.19" height="2.00" fill="#b3b3b3"/>
<rect x="321.09" y="598.10" width="1.19" height="2.00" fill="#b3b3b3"/>
<rect x="322.62" y="598.10" width="1.19" height="2.00" fill="#b3b3b3"/>
<rect x="324.16" y="598.10" width="1.19" height="2.00" fill="#b3b3b3"/>
<rect x="325.69" y="598.10" width="1.19" height="2.00" fill="#b3b3b3"/>
<rect x="327.23" y="598.10" width="1.19" height="2.00" fill="#b3b3b3"/>
<rect x="328.76" y="598.10" width="1.19" height="2.00" fill="#b3b3b3"/>
<rect x="330.30" y="598.10" width="1.19" height="2.00" fill="#b3b3b3"/>
<rect x="331.83" y="598.10" width="1.19" height="2.00" fill="#b3b3b3"/>
<rect x="333.37" y="598.10" width="1.19" height="2.00" fill="#b3b3b3"/>
<rect x="363.20" y="598.10" width="1.19" height="2.00" fill="#b3b3b3"/>
<rect x="364.74" y="598.10" width="1.19" height="2.00" fill="#b3b3b3"/>
<rect x="366.29" y="598.10" width="1.19" height="2.00" fill="#b3b3b3"/>
<rect x="367.83" y="598.10" width="1.19" height="2.00" fill="#b3b3b3"/>
<rect x="369.37" y="598.10" width="1.19" height="2.00" fill="#b3b3b3"/>
<rect x="370.91" y="598.10" width="1.19" height="2.00" fill="#b3b3b3"/>
<rect x="372.46" y="598.10" width="1.19" height="2.00" fill="#b3b3b3"/>
<rect x="374.00" y="598.10" width="1.19" height="2.00" fill="#b3b3b3"/>
<rect x="375.54" y="598.10" width="1.19" height="2.00" fill="#b3b3b3"/>
<rect x="377.09" y="598.10" width="1.19" height="2.00" fill="#b3b3b3"/>
<rect x="378.63" y="598.10" width="1.19" height="2.00" fill="#b3b3b3"/>
<rect x="380.17" y="598.10" width="1.19" height="2.00" fill="#b3b3b3"/>
<rect x="381.71" y="598.10" width="1.19" height="2.00" fill="#b3b3b3"/>
<rect x="383.26" y="598.10" width="1.19" height="2.00" fill="#b3b3b3"/>
<rect x="384.80" y="598.10" width="1.19" height="2.00" fill="#b3b3b3"/>
<rect x="386.34" y="598.10" width="1.19" height="2.00" fill="#b3b3b3"/>
<rect x="387.89" y="598.10" width="1.19" height="2.00" fill="#b3b3b3"/>
<rect x="389.43" y="598.10" width="1.19" height="2.00" fill="#b3b3b3"/>
<rect x="390.97" y="598.10" width="1.19" height="2.00" fill="#b3b3b3"/>
<rect x="392.51" y="598.10" width="1.19" height="2.00" fill="#b3b3b3"/>
<rect x="394.06" y="598.10" width="1.19" height="2.00" fill="#b3b3b3"/>
<rect x="158.2" y="617.6999999999999" width="395.59999999999997" height="0.3" fill="#dcdce6"/>
<path d="M305.0,603.40 H335.3 V606.50 H305.0 L303.8,604.95Z" fill="#8a90cb"/>
<path d="M305.0,607.52 H335.3 V610.62 H305.0 L303.8,609.07Z" fill="#8a90cb"/>
<path d="M360.8,603.40 H396.4 V606.50 H360.8 L359.6,604.95Z" fill="#8a90cb"/>
<path d="M355.6,603.70 v2.4 M356.6,603.70 v2.4" stroke="#555" stroke-width="0.45" fill="none"/>
<path d="M363.8,607.52 H396.4 V610.62 H363.8 L362.6,609.07Z" fill="#8a90cb"/>
<path d="M355.6,607.82 v2.4 M356.6,607.82 v2.4" stroke="#555" stroke-width="0.45" fill="none"/>
<rect x="107.3" y="623.3" width="48.3" height="33.0" fill="#fff" stroke="#3a3a3a" stroke-width="0.8"/>
<text x="108.89999999999999" y="630.1999999999999" font-size="3.05" font-weight="bold" fill="#111" stroke-width="0.12">cancer03.bam Coverage</text>
<text x="108.89999999999999" y="645.4000000000001" font-size="3.05" font-weight="bold" fill="#111" stroke-width="0.12">cancer03.bam</text>
<rect x="158.2" y="623.3" width="395.59999999999997" height="33.0" fill="#fbfbfe" stroke="#6a6a6e" stroke-width="0.45"/>
<rect x="158.2" y="634.95" width="395.59999999999997" height="0.5" fill="#a8a8ac"/>
<rect x="554.4" y="623.3" width="5.800000000000068" height="33.0" fill="#ececf2"/>
<path d="M556.3,625.9 l1,-1.4 l1,1.4z M556.3,653.6999999999999 l1,1.4 l1,-1.4z" fill="#555"/>
<text x="159.39999999999998" y="626.1999999999999" font-size="2.6" fill="#111" stroke-width="0.1">[0 - 10.00]</text>
<rect x="304.20" y="634.10" width="1.19" height="0.80" fill="#b3b3b3"/>
<rect x="305.74" y="634.10" width="1.19" height="0.80" fill="#b3b3b3"/>
<rect x="307.27" y="634.10" width="1.19" height="0.80" fill="#b3b3b3"/>
<rect x="308.81" y="634.10" width="1.19" height="0.80" fill="#b3b3b3"/>
<rect x="310.34" y="634.10" width="1.19" height="0.80" fill="#b3b3b3"/>
<rect x="311.88" y="634.10" width="1.19" height="0.80" fill="#b3b3b3"/>
<rect x="313.41" y="634.10" width="1.19" height="0.80" fill="#b3b3b3"/>
<rect x="314.94" y="634.10" width="1.19" height="0.80" fill="#b3b3b3"/>
<rect x="316.48" y="634.10" width="1.19" height="0.80" fill="#b3b3b3"/>
<rect x="318.01" y="634.10" width="1.19" height="0.80" fill="#b3b3b3"/>
<rect x="319.55" y="634.10" width="1.19" height="0.80" fill="#b3b3b3"/>
<rect x="321.09" y="634.10" width="1.19" height="0.80" fill="#b3b3b3"/>
<rect x="322.62" y="634.10" width="1.19" height="0.80" fill="#b3b3b3"/>
<rect x="324.16" y="634.10" width="1.19" height="0.80" fill="#b3b3b3"/>
<rect x="325.69" y="634.10" width="1.19" height="0.80" fill="#b3b3b3"/>
<rect x="327.23" y="634.10" width="1.19" height="0.80" fill="#b3b3b3"/>
<rect x="328.76" y="634.10" width="1.19" height="0.80" fill="#b3b3b3"/>
<rect x="330.30" y="634.10" width="1.19" height="0.80" fill="#b3b3b3"/>
<rect x="331.83" y="634.10" width="1.19" height="0.80" fill="#b3b3b3"/>
<rect x="333.37" y="634.10" width="1.19" height="0.80" fill="#b3b3b3"/>
<rect x="363.20" y="634.10" width="1.19" height="0.80" fill="#b3b3b3"/>
<rect x="364.74" y="634.10" width="1.19" height="0.80" fill="#b3b3b3"/>
<rect x="366.29" y="634.10" width="1.19" height="0.80" fill="#b3b3b3"/>
<rect x="367.83" y="634.10" width="1.19" height="0.80" fill="#b3b3b3"/>
<rect x="369.37" y="634.10" width="1.19" height="0.80" fill="#b3b3b3"/>
<rect x="370.91" y="634.10" width="1.19" height="0.80" fill="#b3b3b3"/>
<rect x="372.46" y="634.10" width="1.19" height="0.80" fill="#b3b3b3"/>
<rect x="374.00" y="634.10" width="1.19" height="0.80" fill="#b3b3b3"/>
<rect x="375.54" y="634.10" width="1.19" height="0.80" fill="#b3b3b3"/>
<rect x="377.09" y="634.10" width="1.19" height="0.80" fill="#b3b3b3"/>
<rect x="378.63" y="634.10" width="1.19" height="0.80" fill="#b3b3b3"/>
<rect x="380.17" y="634.10" width="1.19" height="0.80" fill="#b3b3b3"/>
<rect x="381.71" y="634.10" width="1.19" height="0.80" fill="#b3b3b3"/>
<rect x="383.26" y="634.10" width="1.19" height="0.80" fill="#b3b3b3"/>
<rect x="384.80" y="634.10" width="1.19" height="0.80" fill="#b3b3b3"/>
<rect x="386.34" y="634.10" width="1.19" height="0.80" fill="#b3b3b3"/>
<rect x="387.89" y="634.10" width="1.19" height="0.80" fill="#b3b3b3"/>
<rect x="389.43" y="634.10" width="1.19" height="0.80" fill="#b3b3b3"/>
<rect x="390.97" y="634.10" width="1.19" height="0.80" fill="#b3b3b3"/>
<rect x="392.51" y="634.10" width="1.19" height="0.80" fill="#b3b3b3"/>
<rect x="394.06" y="634.10" width="1.19" height="0.80" fill="#b3b3b3"/>
<rect x="158.2" y="653.0999999999999" width="395.59999999999997" height="0.3" fill="#dcdce6"/>
<path d="M305.0,638.20 H335.3 V641.30 H305.0 L303.8,639.75Z" fill="#8a90cb"/>
<path d="M363.8,638.20 H396.4 V641.30 H363.8 L362.6,639.75Z" fill="#8a90cb"/>
<path d="M355.6,638.50 v2.4 M356.6,638.50 v2.4" stroke="#555" stroke-width="0.45" fill="none"/>
<rect x="107.3" y="658.0" width="48.3" height="33.5" fill="#fff" stroke="#3a3a3a" stroke-width="0.8"/>
<text x="108.89999999999999" y="664.9" font-size="3.05" font-weight="bold" fill="#111" stroke-width="0.12">normal01.bam Coverage</text>
<text x="108.89999999999999" y="680.7" font-size="3.05" font-weight="bold" fill="#111" stroke-width="0.12">normal01.bam</text>
<rect x="158.2" y="658.0" width="395.59999999999997" height="33.5" fill="#fbfbfe" stroke="#6a6a6e" stroke-width="0.45"/>
<rect x="158.2" y="670.25" width="395.59999999999997" height="0.5" fill="#a8a8ac"/>
<rect x="554.4" y="658.0" width="5.800000000000068" height="33.5" fill="#ececf2"/>
<path d="M556.3,660.6 l1,-1.4 l1,1.4z M556.3,688.9 l1,1.4 l1,-1.4z" fill="#555"/>
<text x="159.39999999999998" y="660.9" font-size="2.6" fill="#111" stroke-width="0.1">[0 - 313]</text>
<rect x="555.1999999999999" y="663.0" width="4.200000000000069" height="6.5" fill="#dcdce4" stroke="#9a9aa6" stroke-width="0.4"/>
<rect x="304.20" y="668.20" width="1.19" height="2.00" fill="#b3b3b3"/>
<rect x="305.74" y="668.20" width="1.19" height="2.00" fill="#b3b3b3"/>
<rect x="307.27" y="668.20" width="1.19" height="2.00" fill="#b3b3b3"/>
<rect x="308.81" y="668.20" width="1.19" height="2.00" fill="#b3b3b3"/>
<rect x="310.34" y="668.20" width="1.19" height="2.00" fill="#b3b3b3"/>
<rect x="311.88" y="668.20" width="1.19" height="2.00" fill="#b3b3b3"/>
<rect x="313.41" y="668.20" width="1.19" height="2.00" fill="#b3b3b3"/>
<rect x="314.94" y="668.20" width="1.19" height="2.00" fill="#b3b3b3"/>
<rect x="316.48" y="668.20" width="1.19" height="2.00" fill="#b3b3b3"/>
<rect x="318.01" y="668.20" width="1.19" height="2.00" fill="#b3b3b3"/>
<rect x="319.55" y="668.20" width="1.19" height="2.00" fill="#b3b3b3"/>
<rect x="321.09" y="668.20" width="1.19" height="2.00" fill="#b3b3b3"/>
<rect x="322.62" y="668.20" width="1.19" height="2.00" fill="#b3b3b3"/>
<rect x="324.16" y="668.20" width="1.19" height="2.00" fill="#b3b3b3"/>
<rect x="325.69" y="668.20" width="1.19" height="2.00" fill="#b3b3b3"/>
<rect x="327.23" y="668.20" width="1.19" height="2.00" fill="#b3b3b3"/>
<rect x="328.76" y="668.20" width="1.19" height="2.00" fill="#b3b3b3"/>
<rect x="330.30" y="668.20" width="1.19" height="2.00" fill="#b3b3b3"/>
<rect x="331.83" y="668.20" width="1.19" height="2.00" fill="#b3b3b3"/>
<rect x="333.37" y="668.20" width="1.19" height="2.00" fill="#b3b3b3"/>
<rect x="363.20" y="669.62" width="1.19" height="0.58" fill="#b3b3b3"/>
<rect x="364.74" y="666.18" width="1.19" height="4.02" fill="#b3b3b3"/>
<rect x="366.29" y="658.70" width="1.19" height="11.50" fill="#b3b3b3"/>
<rect x="367.83" y="658.70" width="1.19" height="11.50" fill="#b3b3b3"/>
<rect x="369.37" y="658.70" width="1.19" height="11.50" fill="#b3b3b3"/>
<rect x="370.91" y="658.70" width="1.19" height="11.50" fill="#b3b3b3"/>
<rect x="372.46" y="658.70" width="1.19" height="11.50" fill="#b3b3b3"/>
<rect x="374.00" y="658.70" width="1.19" height="11.50" fill="#b3b3b3"/>
<rect x="375.54" y="658.70" width="1.19" height="11.50" fill="#b3b3b3"/>
<rect x="377.09" y="658.70" width="1.19" height="11.50" fill="#b3b3b3"/>
<rect x="378.63" y="658.70" width="1.19" height="11.50" fill="#b3b3b3"/>
<rect x="380.17" y="658.70" width="1.19" height="11.50" fill="#b3b3b3"/>
<rect x="381.71" y="658.70" width="1.19" height="11.50" fill="#b3b3b3"/>
<rect x="383.26" y="658.70" width="1.19" height="11.50" fill="#b3b3b3"/>
<rect x="384.80" y="658.70" width="1.19" height="11.50" fill="#b3b3b3"/>
<rect x="386.34" y="658.70" width="1.19" height="11.50" fill="#b3b3b3"/>
<rect x="387.89" y="658.70" width="1.19" height="11.50" fill="#b3b3b3"/>
<rect x="389.43" y="658.70" width="1.19" height="11.50" fill="#b3b3b3"/>
<rect x="390.97" y="658.70" width="1.19" height="11.50" fill="#b3b3b3"/>
<rect x="392.51" y="658.70" width="1.19" height="11.50" fill="#b3b3b3"/>
<rect x="394.06" y="658.70" width="1.19" height="11.50" fill="#b3b3b3"/>
<rect x="359.6" y="669.6" width="3" height="0.6" fill="#c8a0a0"/>
<rect x="158.2" y="688.3" width="395.59999999999997" height="0.3" fill="#dcdce6"/>
<path d="M303.8,673.50 H335.3 V676.60 H303.8 L302.6,675.05Z" fill="#8a90cb"/>
<path d="M303.8,677.62 H335.3 V680.72 H303.8 L302.6,679.17Z" fill="#8a90cb"/>
<path d="M303.8,681.74 H335.3 V684.84 H303.8 L302.6,683.29Z" fill="#8a90cb"/>
<path d="M303.8,685.86 H335.3 V688.96 H303.8 L302.6,687.41Z" fill="#8a90cb"/>
<path d="M303.8,689.98 H335.3 V691.20 H303.8 L302.6,690.59Z" fill="#8a90cb"/>
<path d="M360.8,673.50 H396.4 V676.60 H360.8 L359.6,675.05Z" fill="#8a90cb"/>
<path d="M355.6,673.80 v2.4 M356.6,673.80 v2.4" stroke="#555" stroke-width="0.45" fill="none"/>
<path d="M361.8,677.62 H396.4 V680.72 H361.8 L360.6,679.17Z" fill="#8a90cb"/>
<path d="M355.6,677.92 v2.4 M356.6,677.92 v2.4" stroke="#555" stroke-width="0.45" fill="none"/>
<path d="M361.2,681.74 H396.4 V684.84 H361.2 L360.0,683.29Z" fill="#8a90cb"/>
<path d="M355.6,682.04 v2.4 M356.6,682.04 v2.4" stroke="#555" stroke-width="0.45" fill="none"/>
<path d="M361.8,685.86 H396.4 V688.96 H361.8 L360.6,687.41Z" fill="#8a90cb"/>
<path d="M355.6,686.16 v2.4 M356.6,686.16 v2.4" stroke="#555" stroke-width="0.45" fill="none"/>
<path d="M361.2,689.98 H396.4 V691.20 H361.2 L360.0,690.59Z" fill="#8a90cb"/>
<path d="M355.6,690.28 v2.4 M356.6,690.28 v2.4" stroke="#555" stroke-width="0.45" fill="none"/>
<circle cx="303.0" cy="675.05" r="1.5" fill="#d9534a"/>
<circle cx="303.0" cy="679.17" r="1.5" fill="#d9534a"/>
<circle cx="303.0" cy="683.29" r="1.5" fill="#d9534a"/>
<circle cx="303.0" cy="687.41" r="1.5" fill="#d9534a"/>
<circle cx="389.0" cy="675.05" r="1.5" fill="#4caf50"/>
<rect x="107.3" y="692.7" width="48.3" height="33.09999999999991" fill="#fff" stroke="#3a3a3a" stroke-width="0.8"/>
<text x="108.89999999999999" y="699.6" font-size="3.05" font-weight="bold" fill="#111" stroke-width="0.12">normal02.bam Coverage</text>
<text x="108.89999999999999" y="715.0" font-size="3.05" font-weight="bold" fill="#111" stroke-width="0.12">normal02.bam</text>
<rect x="158.2" y="692.7" width="395.59999999999997" height="33.09999999999991" fill="#fbfbfe" stroke="#6a6a6e" stroke-width="0.45"/>
<rect x="158.2" y="704.55" width="395.59999999999997" height="0.5" fill="#a8a8ac"/>
<rect x="554.4" y="692.7" width="5.800000000000068" height="33.09999999999991" fill="#ececf2"/>
<path d="M556.3,695.3000000000001 l1,-1.4 l1,1.4z M556.3,723.1999999999999 l1,1.4 l1,-1.4z" fill="#555"/>
<text x="159.39999999999998" y="695.6" font-size="2.6" fill="#111" stroke-width="0.1">[0 - 113]</text>
<rect x="555.1999999999999" y="697.7" width="4.200000000000069" height="6.5" fill="#dcdce4" stroke="#9a9aa6" stroke-width="0.4"/>
<rect x="304.20" y="703.50" width="1.19" height="1.00" fill="#b3b3b3"/>
<rect x="305.74" y="703.50" width="1.19" height="1.00" fill="#b3b3b3"/>
<rect x="307.27" y="703.50" width="1.19" height="1.00" fill="#b3b3b3"/>
<rect x="308.81" y="703.50" width="1.19" height="1.00" fill="#b3b3b3"/>
<rect x="310.34" y="703.50" width="1.19" height="1.00" fill="#b3b3b3"/>
<rect x="311.88" y="703.50" width="1.19" height="1.00" fill="#b3b3b3"/>
<rect x="313.41" y="703.50" width="1.19" height="1.00" fill="#b3b3b3"/>
<rect x="314.94" y="703.50" width="1.19" height="1.00" fill="#b3b3b3"/>
<rect x="316.48" y="703.50" width="1.19" height="1.00" fill="#b3b3b3"/>
<rect x="318.01" y="703.50" width="1.19" height="1.00" fill="#b3b3b3"/>
<rect x="319.55" y="703.50" width="1.19" height="1.00" fill="#b3b3b3"/>
<rect x="321.09" y="703.50" width="1.19" height="1.00" fill="#b3b3b3"/>
<rect x="322.62" y="703.50" width="1.19" height="1.00" fill="#b3b3b3"/>
<rect x="324.16" y="703.50" width="1.19" height="1.00" fill="#b3b3b3"/>
<rect x="325.69" y="703.50" width="1.19" height="1.00" fill="#b3b3b3"/>
<rect x="327.23" y="703.50" width="1.19" height="1.00" fill="#b3b3b3"/>
<rect x="328.76" y="703.50" width="1.19" height="1.00" fill="#b3b3b3"/>
<rect x="330.30" y="703.50" width="1.19" height="1.00" fill="#b3b3b3"/>
<rect x="331.83" y="703.50" width="1.19" height="1.00" fill="#b3b3b3"/>
<rect x="333.37" y="703.50" width="1.19" height="1.00" fill="#b3b3b3"/>
<rect x="363.20" y="703.92" width="1.19" height="0.58" fill="#b3b3b3"/>
<rect x="364.74" y="700.48" width="1.19" height="4.02" fill="#b3b3b3"/>
<rect x="366.29" y="693.00" width="1.19" height="11.50" fill="#b3b3b3"/>
<rect x="367.83" y="693.00" width="1.19" height="11.50" fill="#b3b3b3"/>
<rect x="369.37" y="693.00" width="1.19" height="11.50" fill="#b3b3b3"/>
<rect x="370.91" y="693.00" width="1.19" height="11.50" fill="#b3b3b3"/>
<rect x="372.46" y="693.00" width="1.19" height="11.50" fill="#b3b3b3"/>
<rect x="374.00" y="693.00" width="1.19" height="11.50" fill="#b3b3b3"/>
<rect x="375.54" y="693.00" width="1.19" height="11.50" fill="#b3b3b3"/>
<rect x="377.09" y="693.00" width="1.19" height="11.50" fill="#b3b3b3"/>
<rect x="378.63" y="693.00" width="1.19" height="11.50" fill="#b3b3b3"/>
<rect x="380.17" y="693.00" width="1.19" height="11.50" fill="#b3b3b3"/>
<rect x="381.71" y="693.00" width="1.19" height="11.50" fill="#b3b3b3"/>
<rect x="383.26" y="693.00" width="1.19" height="11.50" fill="#b3b3b3"/>
<rect x="384.80" y="693.00" width="1.19" height="11.50" fill="#b3b3b3"/>
<rect x="386.34" y="693.00" width="1.19" height="11.50" fill="#b3b3b3"/>
<rect x="387.89" y="693.00" width="1.19" height="11.50" fill="#b3b3b3"/>
<rect x="389.43" y="693.00" width="1.19" height="11.50" fill="#b3b3b3"/>
<rect x="390.97" y="693.00" width="1.19" height="11.50" fill="#b3b3b3"/>
<rect x="392.51" y="693.00" width="1.19" height="11.50" fill="#b3b3b3"/>
<rect x="394.06" y="693.00" width="1.19" height="11.50" fill="#b3b3b3"/>
<rect x="359.6" y="703.9" width="3" height="0.6" fill="#c8a0a0"/>
<rect x="158.2" y="722.5999999999999" width="395.59999999999997" height="0.3" fill="#dcdce6"/>
<path d="M303.8,707.80 H335.3 V710.90 H303.8 L302.6,709.35Z" fill="#8a90cb"/>
<path d="M303.8,711.92 H335.3 V715.02 H303.8 L302.6,713.47Z" fill="#8a90cb"/>
<path d="M303.8,716.04 H335.3 V719.14 H303.8 L302.6,717.59Z" fill="#8a90cb"/>
<path d="M303.8,720.16 H335.3 V723.26 H303.8 L302.6,721.71Z" fill="#8a90cb"/>
<path d="M303.8,724.28 H335.3 V725.50 H303.8 L302.6,724.89Z" fill="#8a90cb"/>
<path d="M360.8,707.80 H396.4 V710.90 H360.8 L359.6,709.35Z" fill="#8a90cb"/>
<path d="M355.6,708.10 v2.4 M356.6,708.10 v2.4" stroke="#555" stroke-width="0.45" fill="none"/>
<path d="M361.8,711.92 H396.4 V715.02 H361.8 L360.6,713.47Z" fill="#8a90cb"/>
<path d="M355.6,712.22 v2.4 M356.6,712.22 v2.4" stroke="#555" stroke-width="0.45" fill="none"/>
<path d="M361.2,716.04 H396.4 V719.14 H361.2 L360.0,717.59Z" fill="#8a90cb"/>
<path d="M355.6,716.34 v2.4 M356.6,716.34 v2.4" stroke="#555" stroke-width="0.45" fill="none"/>
<path d="M361.8,720.16 H396.4 V723.26 H361.8 L360.6,721.71Z" fill="#8a90cb"/>
<path d="M355.6,720.46 v2.4 M356.6,720.46 v2.4" stroke="#555" stroke-width="0.45" fill="none"/>
<path d="M361.2,724.28 H396.4 V725.50 H361.2 L360.0,724.89Z" fill="#8a90cb"/>
<path d="M355.6,724.58 v2.4 M356.6,724.58 v2.4" stroke="#555" stroke-width="0.45" fill="none"/>
<circle cx="303.0" cy="709.35" r="1.5" fill="#d9534a"/>
<circle cx="303.0" cy="713.47" r="1.5" fill="#d9534a"/>
<circle cx="303.0" cy="717.59" r="1.5" fill="#d9534a"/>
<circle cx="303.0" cy="721.71" r="1.5" fill="#d9534a"/>
<circle cx="303.0" cy="725.83" r="1.5" fill="#d9534a"/>
<rect x="107.3" y="727.6" width="48.3" height="33.69999999999993" fill="#fff" stroke="#3a3a3a" stroke-width="0.8"/>
<text x="108.89999999999999" y="734.5" font-size="3.05" font-weight="bold" fill="#111" stroke-width="0.12">normal03.bam Coverage</text>
<text x="108.89999999999999" y="749.7" font-size="3.05" font-weight="bold" fill="#111" stroke-width="0.12">normal03.bam</text>
<rect x="158.2" y="727.6" width="395.59999999999997" height="33.69999999999993" fill="#fbfbfe" stroke="#6a6a6e" stroke-width="0.45"/>
<rect x="158.2" y="739.25" width="395.59999999999997" height="0.5" fill="#a8a8ac"/>
<rect x="554.4" y="727.6" width="5.800000000000068" height="33.69999999999993" fill="#ececf2"/>
<path d="M556.3,730.2 l1,-1.4 l1,1.4z M556.3,758.6999999999999 l1,1.4 l1,-1.4z" fill="#555"/>
<text x="159.39999999999998" y="730.5" font-size="2.6" fill="#111" stroke-width="0.1">[0 - 309]</text>
<rect x="555.1999999999999" y="732.6" width="4.200000000000069" height="6.5" fill="#dcdce4" stroke="#9a9aa6" stroke-width="0.4"/>
<rect x="304.20" y="738.40" width="1.19" height="0.80" fill="#b3b3b3"/>
<rect x="305.74" y="738.40" width="1.19" height="0.80" fill="#b3b3b3"/>
<rect x="307.27" y="738.40" width="1.19" height="0.80" fill="#b3b3b3"/>
<rect x="308.81" y="738.40" width="1.19" height="0.80" fill="#b3b3b3"/>
<rect x="310.34" y="738.40" width="1.19" height="0.80" fill="#b3b3b3"/>
<rect x="311.88" y="738.40" width="1.19" height="0.80" fill="#b3b3b3"/>
<rect x="313.41" y="738.40" width="1.19" height="0.80" fill="#b3b3b3"/>
<rect x="314.94" y="738.40" width="1.19" height="0.80" fill="#b3b3b3"/>
<rect x="316.48" y="738.40" width="1.19" height="0.80" fill="#b3b3b3"/>
<rect x="318.01" y="738.40" width="1.19" height="0.80" fill="#b3b3b3"/>
<rect x="319.55" y="738.40" width="1.19" height="0.80" fill="#b3b3b3"/>
<rect x="321.09" y="738.40" width="1.19" height="0.80" fill="#b3b3b3"/>
<rect x="322.62" y="738.40" width="1.19" height="0.80" fill="#b3b3b3"/>
<rect x="324.16" y="738.40" width="1.19" height="0.80" fill="#b3b3b3"/>
<rect x="325.69" y="738.40" width="1.19" height="0.80" fill="#b3b3b3"/>
<rect x="327.23" y="738.40" width="1.19" height="0.80" fill="#b3b3b3"/>
<rect x="328.76" y="738.40" width="1.19" height="0.80" fill="#b3b3b3"/>
<rect x="330.30" y="738.40" width="1.19" height="0.80" fill="#b3b3b3"/>
<rect x="331.83" y="738.40" width="1.19" height="0.80" fill="#b3b3b3"/>
<rect x="333.37" y="738.40" width="1.19" height="0.80" fill="#b3b3b3"/>
<rect x="363.20" y="738.62" width="1.19" height="0.58" fill="#b3b3b3"/>
<rect x="364.74" y="735.18" width="1.19" height="4.02" fill="#b3b3b3"/>
<rect x="366.29" y="727.70" width="1.19" height="11.50" fill="#b3b3b3"/>
<rect x="367.83" y="727.70" width="1.19" height="11.50" fill="#b3b3b3"/>
<rect x="369.37" y="727.70" width="1.19" height="11.50" fill="#b3b3b3"/>
<rect x="370.91" y="727.70" width="1.19" height="11.50" fill="#b3b3b3"/>
<rect x="372.46" y="727.70" width="1.19" height="11.50" fill="#b3b3b3"/>
<rect x="374.00" y="727.70" width="1.19" height="11.50" fill="#b3b3b3"/>
<rect x="375.54" y="727.70" width="1.19" height="11.50" fill="#b3b3b3"/>
<rect x="377.09" y="727.70" width="1.19" height="11.50" fill="#b3b3b3"/>
<rect x="378.63" y="727.70" width="1.19" height="11.50" fill="#b3b3b3"/>
<rect x="380.17" y="727.70" width="1.19" height="11.50" fill="#b3b3b3"/>
<rect x="381.71" y="727.70" width="1.19" height="11.50" fill="#b3b3b3"/>
<rect x="383.26" y="727.70" width="1.19" height="11.50" fill="#b3b3b3"/>
<rect x="384.80" y="727.70" width="1.19" height="11.50" fill="#b3b3b3"/>
<rect x="386.34" y="727.70" width="1.19" height="11.50" fill="#b3b3b3"/>
<rect x="387.89" y="727.70" width="1.19" height="11.50" fill="#b3b3b3"/>
<rect x="389.43" y="727.70" width="1.19" height="11.50" fill="#b3b3b3"/>
<rect x="390.97" y="727.70" width="1.19" height="11.50" fill="#b3b3b3"/>
<rect x="392.51" y="727.70" width="1.19" height="11.50" fill="#b3b3b3"/>
<rect x="394.06" y="727.70" width="1.19" height="11.50" fill="#b3b3b3"/>
<rect x="359.6" y="738.6" width="3" height="0.6" fill="#c8a0a0"/>
<rect x="158.2" y="758.0999999999999" width="395.59999999999997" height="0.3" fill="#dcdce6"/>
<path d="M303.8,742.50 H335.3 V745.60 H303.8 L302.6,744.05Z" fill="#8a90cb"/>
<path d="M303.8,746.62 H335.3 V749.72 H303.8 L302.6,748.17Z" fill="#8a90cb"/>
<path d="M303.8,750.74 H335.3 V753.84 H303.8 L302.6,752.29Z" fill="#8a90cb"/>
<path d="M303.8,754.86 H335.3 V757.96 H303.8 L302.6,756.41Z" fill="#8a90cb"/>
<path d="M303.8,758.98 H335.3 V761.00 H303.8 L302.6,759.99Z" fill="#8a90cb"/>
<path d="M360.8,742.50 H396.4 V745.60 H360.8 L359.6,744.05Z" fill="#8a90cb"/>
<path d="M355.6,742.80 v2.4 M356.6,742.80 v2.4" stroke="#555" stroke-width="0.45" fill="none"/>
<path d="M361.8,746.62 H396.4 V749.72 H361.8 L360.6,748.17Z" fill="#8a90cb"/>
<path d="M355.6,746.92 v2.4 M356.6,746.92 v2.4" stroke="#555" stroke-width="0.45" fill="none"/>
<path d="M361.2,750.74 H396.4 V753.84 H361.2 L360.0,752.29Z" fill="#8a90cb"/>
<path d="M355.6,751.04 v2.4 M356.6,751.04 v2.4" stroke="#555" stroke-width="0.45" fill="none"/>
<path d="M361.8,754.86 H396.4 V757.96 H361.8 L360.6,756.41Z" fill="#8a90cb"/>
<path d="M355.6,755.16 v2.4 M356.6,755.16 v2.4" stroke="#555" stroke-width="0.45" fill="none"/>
<path d="M361.2,758.98 H396.4 V761.00 H361.2 L360.0,759.99Z" fill="#8a90cb"/>
<path d="M355.6,759.28 v2.4 M356.6,759.28 v2.4" stroke="#555" stroke-width="0.45" fill="none"/>
<circle cx="303.0" cy="744.05" r="1.5" fill="#d9534a"/>
<circle cx="360.6" cy="748.17" r="1.5" fill="#e0452f"/>
<circle cx="373.0" cy="752.29" r="1.5" fill="#4caf50"/>
<rect x="107.3" y="762.0" width="48.3" height="24.600000000000023" fill="#fff" stroke="#3a3a3a" stroke-width="0.8"/>
<text x="108.89999999999999" y="765.3" font-size="3.05" font-weight="bold" fill="#111" stroke-width="0.12">Sequence</text>
<text x="108.89999999999999" y="777.6" font-size="3.05" font-weight="bold" fill="#111" stroke-width="0.12">hsa20.gff3</text>
<rect x="158.2" y="762.0" width="395.59999999999997" height="24.600000000000023" fill="#fbfbfe" stroke="#6a6a6e" stroke-width="0.45"/>
<rect x="554.4" y="762.0" width="5.800000000000068" height="24.600000000000023" fill="#ececf2"/>
<path d="M556.3,764.6 l1,-1.4 l1,1.4z M556.3,784.0 l1,1.4 l1,-1.4z" fill="#555"/>
<path d="M149.6,764.3 h3 v-0.8 l2,1.3 l-2,1.3 v-0.8 h-3z" fill="#111"/>
<rect x="555.1999999999999" y="770.0" width="4.200000000000069" height="9" fill="#dcdce4" stroke="#9a9aa6" stroke-width="0.4"/>
<rect x="158.70" y="763.1" width="1.53" height="2.8" fill="#3a62c8"/>
<rect x="160.23" y="763.1" width="1.53" height="2.8" fill="#e8913a"/>
<rect x="161.76" y="763.1" width="1.53" height="2.8" fill="#d9432f"/>
<rect x="163.29" y="763.1" width="1.53" height="2.8" fill="#3aa655"/>
<rect x="164.82" y="763.1" width="1.53" height="2.8" fill="#3aa655"/>
<rect x="166.35" y="763.1" width="1.53" height="2.8" fill="#3aa655"/>
<rect x="167.88" y="763.1" width="1.53" height="2.8" fill="#3a62c8"/>
<rect x="169.41" y="763.1" width="1.53" height="2.8" fill="#3aa655"/>
<rect x="170.94" y="763.1" width="1.53" height="2.8" fill="#e8913a"/>
<rect x="172.47" y="763.1" width="1.53" height="2.8" fill="#3aa655"/>
<rect x="173.99" y="763.1" width="1.53" height="2.8" fill="#3aa655"/>
<rect x="175.52" y="763.1" width="1.53" height="2.8" fill="#d9432f"/>
<rect x="177.05" y="763.1" width="1.53" height="2.8" fill="#d9432f"/>
<rect x="178.58" y="763.1" width="1.53" height="2.8" fill="#3aa655"/>
<rect x="180.11" y="763.1" width="1.53" height="2.8" fill="#e8913a"/>
<rect x="181.64" y="763.1" width="1.53" height="2.8" fill="#3aa655"/>
<rect x="183.17" y="763.1" width="1.53" height="2.8" fill="#d9432f"/>
<rect x="184.70" y="763.1" width="1.53" height="2.8" fill="#3aa655"/>
<rect x="186.23" y="763.1" width="1.53" height="2.8" fill="#3aa655"/>
<rect x="187.76" y="763.1" width="1.53" height="2.8" fill="#e8913a"/>
<rect x="189.29" y="763.1" width="1.53" height="2.8" fill="#3aa655"/>
<rect x="190.82" y="763.1" width="1.53" height="2.8" fill="#d9432f"/>
<rect x="192.35" y="763.1" width="1.53" height="2.8" fill="#3aa655"/>
<rect x="193.88" y="763.1" width="1.53" height="2.8" fill="#e8913a"/>
<rect x="195.41" y="763.1" width="1.53" height="2.8" fill="#3aa655"/>
<rect x="196.94" y="763.1" width="1.53" height="2.8" fill="#e8913a"/>
<rect x="198.47" y="763.1" width="1.53" height="2.8" fill="#3a62c8"/>
<rect x="200.00" y="763.1" width="1.53" height="2.8" fill="#d9432f"/>
<rect x="201.52" y="763.1" width="1.53" height="2.8" fill="#e8913a"/>
<rect x="203.05" y="763.1" width="1.53" height="2.8" fill="#3aa655"/>
<rect x="204.58" y="763.1" width="1.53" height="2.8" fill="#3a62c8"/>
<rect x="206.11" y="763.1" width="1.53" height="2.8" fill="#e8913a"/>
<rect x="207.64" y="763.1" width="1.53" height="2.8" fill="#3aa655"/>
<rect x="209.17" y="763.1" width="1.53" height="2.8" fill="#e8913a"/>
<rect x="210.70" y="763.1" width="1.53" height="2.8" fill="#3a62c8"/>
<rect x="212.23" y="763.1" width="1.53" height="2.8" fill="#3aa655"/>
<rect x="213.76" y="763.1" width="1.53" height="2.8" fill="#3aa655"/>
<rect x="215.29" y="763.1" width="1.53" height="2.8" fill="#3aa655"/>
<rect x="216.82" y="763.1" width="1.53" height="2.8" fill="#e8913a"/>
<rect x="218.35" y="763.1" width="1.53" height="2.8" fill="#d9432f"/>
<rect x="219.88" y="763.1" width="1.53" height="2.8" fill="#d9432f"/>
<rect x="221.41" y="763.1" width="1.53" height="2.8" fill="#3a62c8"/>
<rect x="222.94" y="763.1" width="1.53" height="2.8" fill="#d9432f"/>
<rect x="224.47" y="763.1" width="1.53" height="2.8" fill="#d9432f"/>
<rect x="226.00" y="763.1" width="1.53" height="2.8" fill="#3a62c8"/>
<rect x="227.53" y="763.1" width="1.53" height="2.8" fill="#3a62c8"/>
<rect x="229.06" y="763.1" width="1.53" height="2.8" fill="#e8913a"/>
<rect x="230.58" y="763.1" width="1.53" height="2.8" fill="#e8913a"/>
<rect x="232.11" y="763.1" width="1.53" height="2.8" fill="#e8913a"/>
<rect x="233.64" y="763.1" width="1.53" height="2.8" fill="#3aa655"/>
<rect x="235.17" y="763.1" width="1.53" height="2.8" fill="#3a62c8"/>
<rect x="236.70" y="763.1" width="1.53" height="2.8" fill="#d9432f"/>
<rect x="238.23" y="763.1" width="1.53" height="2.8" fill="#3a62c8"/>
<rect x="239.76" y="763.1" width="1.53" height="2.8" fill="#d9432f"/>
<rect x="241.29" y="763.1" width="1.53" height="2.8" fill="#3a62c8"/>
<rect x="242.82" y="763.1" width="1.53" height="2.8" fill="#3aa655"/>
<rect x="244.35" y="763.1" width="1.53" height="2.8" fill="#3aa655"/>
<rect x="245.88" y="763.1" width="1.53" height="2.8" fill="#d9432f"/>
<rect x="247.41" y="763.1" width="1.53" height="2.8" fill="#e8913a"/>
<rect x="248.94" y="763.1" width="1.53" height="2.8" fill="#3a62c8"/>
<rect x="250.47" y="763.1" width="1.53" height="2.8" fill="#e8913a"/>
<rect x="252.00" y="763.1" width="1.53" height="2.8" fill="#d9432f"/>
<rect x="253.53" y="763.1" width="1.53" height="2.8" fill="#d9432f"/>
<rect x="255.06" y="763.1" width="1.53" height="2.8" fill="#3aa655"/>
<rect x="256.59" y="763.1" width="1.53" height="2.8" fill="#3aa655"/>
<rect x="258.11" y="763.1" width="1.53" height="2.8" fill="#3a62c8"/>
<rect x="259.64" y="763.1" width="1.53" height="2.8" fill="#3a62c8"/>
<rect x="261.17" y="763.1" width="1.53" height="2.8" fill="#3a62c8"/>
<rect x="262.70" y="763.1" width="1.53" height="2.8" fill="#d9432f"/>
<rect x="264.23" y="763.1" width="1.53" height="2.8" fill="#d9432f"/>
<rect x="265.76" y="763.1" width="1.53" height="2.8" fill="#3aa655"/>
<rect x="267.29" y="763.1" width="1.53" height="2.8" fill="#3aa655"/>
<rect x="268.82" y="763.1" width="1.53" height="2.8" fill="#3a62c8"/>
<rect x="270.35" y="763.1" width="1.53" height="2.8" fill="#d9432f"/>
<rect x="271.88" y="763.1" width="1.53" height="2.8" fill="#3aa655"/>
<rect x="273.41" y="763.1" width="1.53" height="2.8" fill="#3aa655"/>
<rect x="274.94" y="763.1" width="1.53" height="2.8" fill="#3a62c8"/>
<rect x="276.47" y="763.1" width="1.53" height="2.8" fill="#d9432f"/>
<rect x="278.00" y="763.1" width="1.53" height="2.8" fill="#3a62c8"/>
<rect x="279.53" y="763.1" width="1.53" height="2.8" fill="#d9432f"/>
<rect x="281.06" y="763.1" width="1.53" height="2.8" fill="#3a62c8"/>
<rect x="282.59" y="763.1" width="1.53" height="2.8" fill="#3aa655"/>
<rect x="284.12" y="763.1" width="1.53" height="2.8" fill="#d9432f"/>
<rect x="285.64" y="763.1" width="1.53" height="2.8" fill="#3a62c8"/>
<rect x="287.17" y="763.1" width="1.53" height="2.8" fill="#e8913a"/>
<rect x="288.70" y="763.1" width="1.53" height="2.8" fill="#3aa655"/>
<rect x="290.23" y="763.1" width="1.53" height="2.8" fill="#d9432f"/>
<rect x="291.76" y="763.1" width="1.53" height="2.8" fill="#3aa655"/>
<rect x="293.29" y="763.1" width="1.53" height="2.8" fill="#e8913a"/>
<rect x="294.82" y="763.1" width="1.53" height="2.8" fill="#3a62c8"/>
<rect x="296.35" y="763.1" width="1.53" height="2.8" fill="#e8913a"/>
<rect x="297.88" y="763.1" width="1.53" height="2.8" fill="#e8913a"/>
<rect x="299.41" y="763.1" width="1.53" height="2.8" fill="#d9432f"/>
<rect x="300.94" y="763.1" width="1.53" height="2.8" fill="#d9432f"/>
<rect x="302.47" y="763.1" width="1.53" height="2.8" fill="#d9432f"/>
<rect x="304.00" y="763.1" width="1.53" height="2.8" fill="#3aa655"/>
<rect x="305.53" y="763.1" width="1.53" height="2.8" fill="#e8913a"/>
<rect x="307.06" y="763.1" width="1.53" height="2.8" fill="#d9432f"/>
<rect x="308.59" y="763.1" width="1.53" height="2.8" fill="#d9432f"/>
<rect x="310.12" y="763.1" width="1.53" height="2.8" fill="#3a62c8"/>
<rect x="311.65" y="763.1" width="1.53" height="2.8" fill="#e8913a"/>
<rect x="313.18" y="763.1" width="1.53" height="2.8" fill="#d9432f"/>
<rect x="314.70" y="763.1" width="1.53" height="2.8" fill="#3a62c8"/>
<rect x="316.23" y="763.1" width="1.53" height="2.8" fill="#d9432f"/>
<rect x="317.76" y="763.1" width="1.53" height="2.8" fill="#3a62c8"/>
<rect x="319.29" y="763.1" width="1.53" height="2.8" fill="#d9432f"/>
<rect x="320.82" y="763.1" width="1.53" height="2.8" fill="#e8913a"/>
<rect x="322.35" y="763.1" width="1.53" height="2.8" fill="#e8913a"/>
<rect x="323.88" y="763.1" width="1.53" height="2.8" fill="#3aa655"/>
<rect x="325.41" y="763.1" width="1.53" height="2.8" fill="#e8913a"/>
<rect x="326.94" y="763.1" width="1.53" height="2.8" fill="#e8913a"/>
<rect x="328.47" y="763.1" width="1.53" height="2.8" fill="#e8913a"/>
<rect x="330.00" y="763.1" width="1.53" height="2.8" fill="#e8913a"/>
<rect x="331.53" y="763.1" width="1.53" height="2.8" fill="#3aa655"/>
<rect x="333.06" y="763.1" width="1.53" height="2.8" fill="#d9432f"/>
<rect x="334.59" y="763.1" width="1.53" height="2.8" fill="#e8913a"/>
<rect x="336.12" y="763.1" width="1.53" height="2.8" fill="#3a62c8"/>
<rect x="337.65" y="763.1" width="1.53" height="2.8" fill="#3a62c8"/>
<rect x="339.18" y="763.1" width="1.53" height="2.8" fill="#3aa655"/>
<rect x="340.71" y="763.1" width="1.53" height="2.8" fill="#e8913a"/>
<rect x="342.23" y="763.1" width="1.53" height="2.8" fill="#d9432f"/>
<rect x="343.76" y="763.1" width="1.53" height="2.8" fill="#3a62c8"/>
<rect x="345.29" y="763.1" width="1.53" height="2.8" fill="#3a62c8"/>
<rect x="346.82" y="763.1" width="1.53" height="2.8" fill="#e8913a"/>
<rect x="348.35" y="763.1" width="1.53" height="2.8" fill="#3aa655"/>
<rect x="349.88" y="763.1" width="1.53" height="2.8" fill="#d9432f"/>
<rect x="351.41" y="763.1" width="1.53" height="2.8" fill="#d9432f"/>
<rect x="352.94" y="763.1" width="1.53" height="2.8" fill="#d9432f"/>
<rect x="354.47" y="763.1" width="1.53" height="2.8" fill="#d9432f"/>
<rect x="356.00" y="763.1" width="1.53" height="2.8" fill="#d9432f"/>
<rect x="357.53" y="763.1" width="1.53" height="2.8" fill="#3aa655"/>
<rect x="359.06" y="763.1" width="1.53" height="2.8" fill="#d9432f"/>
<rect x="360.59" y="763.1" width="1.53" height="2.8" fill="#d9432f"/>
<rect x="362.12" y="763.1" width="1.53" height="2.8" fill="#3aa655"/>
<rect x="363.65" y="763.1" width="1.53" height="2.8" fill="#e8913a"/>
<rect x="365.18" y="763.1" width="1.53" height="2.8" fill="#3aa655"/>
<rect x="366.71" y="763.1" width="1.53" height="2.8" fill="#e8913a"/>
<rect x="368.24" y="763.1" width="1.53" height="2.8" fill="#d9432f"/>
<rect x="369.77" y="763.1" width="1.53" height="2.8" fill="#e8913a"/>
<rect x="371.29" y="763.1" width="1.53" height="2.8" fill="#3aa655"/>
<rect x="372.82" y="763.1" width="1.53" height="2.8" fill="#3a62c8"/>
<rect x="374.35" y="763.1" width="1.53" height="2.8" fill="#3aa655"/>
<rect x="375.88" y="763.1" width="1.53" height="2.8" fill="#3aa655"/>
<rect x="377.41" y="763.1" width="1.53" height="2.8" fill="#3aa655"/>
<rect x="378.94" y="763.1" width="1.53" height="2.8" fill="#e8913a"/>
<rect x="380.47" y="763.1" width="1.53" height="2.8" fill="#3aa655"/>
<rect x="382.00" y="763.1" width="1.53" height="2.8" fill="#3a62c8"/>
<rect x="383.53" y="763.1" width="1.53" height="2.8" fill="#3aa655"/>
<rect x="385.06" y="763.1" width="1.53" height="2.8" fill="#3aa655"/>
<rect x="386.59" y="763.1" width="1.53" height="2.8" fill="#e8913a"/>
<rect x="388.12" y="763.1" width="1.53" height="2.8" fill="#d9432f"/>
<rect x="389.65" y="763.1" width="1.53" height="2.8" fill="#e8913a"/>
<rect x="391.18" y="763.1" width="1.53" height="2.8" fill="#3a62c8"/>
<rect x="392.71" y="763.1" width="1.53" height="2.8" fill="#3a62c8"/>
<rect x="394.24" y="763.1" width="1.53" height="2.8" fill="#3a62c8"/>
<rect x="395.77" y="763.1" width="1.53" height="2.8" fill="#d9432f"/>
<rect x="397.30" y="763.1" width="1.53" height="2.8" fill="#3aa655"/>
<rect x="398.82" y="763.1" width="1.53" height="2.8" fill="#3aa655"/>
<rect x="400.35" y="763.1" width="1.53" height="2.8" fill="#d9432f"/>
<rect x="401.88" y="763.1" width="1.53" height="2.8" fill="#d9432f"/>
<rect x="403.41" y="763.1" width="1.53" height="2.8" fill="#d9432f"/>
<rect x="404.94" y="763.1" width="1.53" height="2.8" fill="#d9432f"/>
<rect x="406.47" y="763.1" width="1.53" height="2.8" fill="#3a62c8"/>
<rect x="408.00" y="763.1" width="1.53" height="2.8" fill="#3aa655"/>
<rect x="409.53" y="763.1" width="1.53" height="2.8" fill="#e8913a"/>
<rect x="411.06" y="763.1" width="1.53" height="2.8" fill="#3aa655"/>
<rect x="412.59" y="763.1" width="1.53" height="2.8" fill="#3a62c8"/>
<rect x="414.12" y="763.1" width="1.53" height="2.8" fill="#3a62c8"/>
<rect x="415.65" y="763.1" width="1.53" height="2.8" fill="#d9432f"/>
<rect x="417.18" y="763.1" width="1.53" height="2.8" fill="#e8913a"/>
<rect x="418.71" y="763.1" width="1.53" height="2.8" fill="#3aa655"/>
<rect x="420.24" y="763.1" width="1.53" height="2.8" fill="#e8913a"/>
<rect x="421.77" y="763.1" width="1.53" height="2.8" fill="#3a62c8"/>
<rect x="423.30" y="763.1" width="1.53" height="2.8" fill="#e8913a"/>
<rect x="424.83" y="763.1" width="1.53" height="2.8" fill="#3aa655"/>
<rect x="426.36" y="763.1" width="1.53" height="2.8" fill="#3a62c8"/>
<rect x="427.88" y="763.1" width="1.53" height="2.8" fill="#3aa655"/>
<rect x="429.41" y="763.1" width="1.53" height="2.8" fill="#3a62c8"/>
<rect x="430.94" y="763.1" width="1.53" height="2.8" fill="#3a62c8"/>
<rect x="432.47" y="763.1" width="1.53" height="2.8" fill="#e8913a"/>
<rect x="434.00" y="763.1" width="1.53" height="2.8" fill="#3a62c8"/>
<rect x="435.53" y="763.1" width="1.53" height="2.8" fill="#e8913a"/>
<rect x="437.06" y="763.1" width="1.53" height="2.8" fill="#3a62c8"/>
<rect x="438.59" y="763.1" width="1.53" height="2.8" fill="#e8913a"/>
<rect x="440.12" y="763.1" width="1.53" height="2.8" fill="#e8913a"/>
<rect x="441.65" y="763.1" width="1.53" height="2.8" fill="#e8913a"/>
<rect x="443.18" y="763.1" width="1.53" height="2.8" fill="#d9432f"/>
<rect x="444.71" y="763.1" width="1.53" height="2.8" fill="#e8913a"/>
<rect x="446.24" y="763.1" width="1.53" height="2.8" fill="#e8913a"/>
<rect x="447.77" y="763.1" width="1.53" height="2.8" fill="#d9432f"/>
<rect x="449.30" y="763.1" width="1.53" height="2.8" fill="#3a62c8"/>
<rect x="450.83" y="763.1" width="1.53" height="2.8" fill="#3aa655"/>
<rect x="452.36" y="763.1" width="1.53" height="2.8" fill="#3aa655"/>
<rect x="453.89" y="763.1" width="1.53" height="2.8" fill="#3a62c8"/>
<rect x="455.41" y="763.1" width="1.53" height="2.8" fill="#d9432f"/>
<rect x="456.94" y="763.1" width="1.53" height="2.8" fill="#3a62c8"/>
<rect x="458.47" y="763.1" width="1.53" height="2.8" fill="#e8913a"/>
<rect x="460.00" y="763.1" width="1.53" height="2.8" fill="#3a62c8"/>
<rect x="461.53" y="763.1" width="1.53" height="2.8" fill="#d9432f"/>
<rect x="463.06" y="763.1" width="1.53" height="2.8" fill="#3a62c8"/>
<rect x="464.59" y="763.1" width="1.53" height="2.8" fill="#3a62c8"/>
<rect x="466.12" y="763.1" width="1.53" height="2.8" fill="#3aa655"/>
<rect x="467.65" y="763.1" width="1.53" height="2.8" fill="#e8913a"/>
<rect x="469.18" y="763.1" width="1.53" height="2.8" fill="#3aa655"/>
<rect x="470.71" y="763.1" width="1.53" height="2.8" fill="#e8913a"/>
<rect x="472.24" y="763.1" width="1.53" height="2.8" fill="#d9432f"/>
<rect x="473.77" y="763.1" width="1.53" height="2.8" fill="#e8913a"/>
<rect x="475.30" y="763.1" width="1.53" height="2.8" fill="#3a62c8"/>
<rect x="476.83" y="763.1" width="1.53" height="2.8" fill="#e8913a"/>
<rect x="478.36" y="763.1" width="1.53" height="2.8" fill="#d9432f"/>
<rect x="479.89" y="763.1" width="1.53" height="2.8" fill="#3aa655"/>
<rect x="481.42" y="763.1" width="1.53" height="2.8" fill="#d9432f"/>
<rect x="482.94" y="763.1" width="1.53" height="2.8" fill="#3a62c8"/>
<rect x="484.47" y="763.1" width="1.53" height="2.8" fill="#3aa655"/>
<rect x="486.00" y="763.1" width="1.53" height="2.8" fill="#3aa655"/>
<rect x="487.53" y="763.1" width="1.53" height="2.8" fill="#d9432f"/>
<rect x="489.06" y="763.1" width="1.53" height="2.8" fill="#e8913a"/>
<rect x="490.59" y="763.1" width="1.53" height="2.8" fill="#d9432f"/>
<rect x="492.12" y="763.1" width="1.53" height="2.8" fill="#e8913a"/>
<rect x="493.65" y="763.1" width="1.53" height="2.8" fill="#d9432f"/>
<rect x="495.18" y="763.1" width="1.53" height="2.8" fill="#3a62c8"/>
<rect x="496.71" y="763.1" width="1.53" height="2.8" fill="#3aa655"/>
<rect x="498.24" y="763.1" width="1.53" height="2.8" fill="#d9432f"/>
<rect x="499.77" y="763.1" width="1.53" height="2.8" fill="#d9432f"/>
<rect x="501.30" y="763.1" width="1.53" height="2.8" fill="#d9432f"/>
<rect x="502.83" y="763.1" width="1.53" height="2.8" fill="#3aa655"/>
<rect x="504.36" y="763.1" width="1.53" height="2.8" fill="#e8913a"/>
<rect x="505.89" y="763.1" width="1.53" height="2.8" fill="#e8913a"/>
<rect x="507.42" y="763.1" width="1.53" height="2.8" fill="#e8913a"/>
<rect x="508.95" y="763.1" width="1.53" height="2.8" fill="#3aa655"/>
<rect x="510.48" y="763.1" width="1.53" height="2.8" fill="#e8913a"/>
<rect x="512.00" y="763.1" width="1.53" height="2.8" fill="#d9432f"/>
<rect x="513.53" y="763.1" width="1.53" height="2.8" fill="#e8913a"/>
<rect x="515.06" y="763.1" width="1.53" height="2.8" fill="#d9432f"/>
<rect x="516.59" y="763.1" width="1.53" height="2.8" fill="#3a62c8"/>
<rect x="518.12" y="763.1" width="1.53" height="2.8" fill="#e8913a"/>
<rect x="519.65" y="763.1" width="1.53" height="2.8" fill="#e8913a"/>
<rect x="521.18" y="763.1" width="1.53" height="2.8" fill="#3aa655"/>
<rect x="522.71" y="763.1" width="1.53" height="2.8" fill="#3aa655"/>
<rect x="524.24" y="763.1" width="1.53" height="2.8" fill="#3aa655"/>
<rect x="525.77" y="763.1" width="1.53" height="2.8" fill="#e8913a"/>
<rect x="527.30" y="763.1" width="1.53" height="2.8" fill="#d9432f"/>
<rect x="528.83" y="763.1" width="1.53" height="2.8" fill="#e8913a"/>
<rect x="530.36" y="763.1" width="1.53" height="2.8" fill="#e8913a"/>
<rect x="531.89" y="763.1" width="1.53" height="2.8" fill="#3aa655"/>
<rect x="533.42" y="763.1" width="1.53" height="2.8" fill="#3a62c8"/>
<rect x="534.95" y="763.1" width="1.53" height="2.8" fill="#e8913a"/>
<rect x="536.48" y="763.1" width="1.53" height="2.8" fill="#3a62c8"/>
<rect x="538.01" y="763.1" width="1.53" height="2.8" fill="#e8913a"/>
<rect x="539.53" y="763.1" width="1.53" height="2.8" fill="#3a62c8"/>
<rect x="541.06" y="763.1" width="1.53" height="2.8" fill="#3a62c8"/>
<rect x="542.59" y="763.1" width="1.53" height="2.8" fill="#d9432f"/>
<rect x="544.12" y="763.1" width="1.53" height="2.8" fill="#e8913a"/>
<rect x="545.65" y="763.1" width="1.53" height="2.8" fill="#3aa655"/>
<rect x="547.18" y="763.1" width="1.53" height="2.8" fill="#3a62c8"/>
<rect x="548.71" y="763.1" width="1.53" height="2.8" fill="#d9432f"/>
<rect x="550.24" y="763.1" width="1.53" height="2.8" fill="#d9432f"/>
<rect x="551.77" y="763.1" width="1.53" height="2.8" fill="#e8913a"/>
<rect x="274.7" y="768.3" width="171.6" height="3.2" fill="#27338f"/>
<path d="M280.7,769.2 l1,0.7 l-1,0.7" stroke="#cfd4ff" stroke-width="0.35" fill="none"/>
<path d="M289.8,769.2 l1,0.7 l-1,0.7" stroke="#cfd4ff" stroke-width="0.35" fill="none"/>
<path d="M298.9,769.2 l1,0.7 l-1,0.7" stroke="#cfd4ff" stroke-width="0.35" fill="none"/>
<path d="M308.0,769.2 l1,0.7 l-1,0.7" stroke="#cfd4ff" stroke-width="0.35" fill="none"/>
<path d="M317.1,769.2 l1,0.7 l-1,0.7" stroke="#cfd4ff" stroke-width="0.35" fill="none"/>
<path d="M326.2,769.2 l1,0.7 l-1,0.7" stroke="#cfd4ff" stroke-width="0.35" fill="none"/>
<path d="M335.3,769.2 l1,0.7 l-1,0.7" stroke="#cfd4ff" stroke-width="0.35" fill="none"/>
<path d="M344.4,769.2 l1,0.7 l-1,0.7" stroke="#cfd4ff" stroke-width="0.35" fill="none"/>
<path d="M353.5,769.2 l1,0.7 l-1,0.7" stroke="#cfd4ff" stroke-width="0.35" fill="none"/>
<path d="M362.6,769.2 l1,0.7 l-1,0.7" stroke="#cfd4ff" stroke-width="0.35" fill="none"/>
<path d="M371.7,769.2 l1,0.7 l-1,0.7" stroke="#cfd4ff" stroke-width="0.35" fill="none"/>
<path d="M380.8,769.2 l1,0.7 l-1,0.7" stroke="#cfd4ff" stroke-width="0.35" fill="none"/>
<path d="M389.9,769.2 l1,0.7 l-1,0.7" stroke="#cfd4ff" stroke-width="0.35" fill="none"/>
<path d="M399.0,769.2 l1,0.7 l-1,0.7" stroke="#cfd4ff" stroke-width="0.35" fill="none"/>
<path d="M408.1,769.2 l1,0.7 l-1,0.7" stroke="#cfd4ff" stroke-width="0.35" fill="none"/>
<path d="M417.2,769.2 l1,0.7 l-1,0.7" stroke="#cfd4ff" stroke-width="0.35" fill="none"/>
<path d="M426.3,769.2 l1,0.7 l-1,0.7" stroke="#cfd4ff" stroke-width="0.35" fill="none"/>
<path d="M435.4,769.2 l1,0.7 l-1,0.7" stroke="#cfd4ff" stroke-width="0.35" fill="none"/>
<text x="360.5" y="776.4" font-size="2.9" font-weight="bold" fill="#111" stroke-width="0.12" text-anchor="middle">hsa-mir-204</text>
<rect x="302.8" y="778.0" width="33.0" height="3.0" fill="#27338f"/>
<path d="M308.8,778.8 l1,0.7 l-1,0.7" stroke="#cfd4ff" stroke-width="0.35" fill="none"/>
<path d="M317.9,778.8 l1,0.7 l-1,0.7" stroke="#cfd4ff" stroke-width="0.35" fill="none"/>
<path d="M327.0,778.8 l1,0.7 l-1,0.7" stroke="#cfd4ff" stroke-width="0.35" fill="none"/>
<text x="319.3" y="785.6" font-size="2.9" font-weight="bold" fill="#111" stroke-width="0.12" text-anchor="middle">hsa-miR-204-3p</text>
<rect x="362.2" y="778.0" width="34.2" height="3.0" fill="#27338f"/>
<path d="M368.2,778.8 l1,0.7 l-1,0.7" stroke="#cfd4ff" stroke-width="0.35" fill="none"/>
<path d="M377.3,778.8 l1,0.7 l-1,0.7" stroke="#cfd4ff" stroke-width="0.35" fill="none"/>
<path d="M386.4,778.8 l1,0.7 l-1,0.7" stroke="#cfd4ff" stroke-width="0.35" fill="none"/>
<text x="379.3" y="785.6" font-size="2.9" font-weight="bold" fill="#111" stroke-width="0.12" text-anchor="middle">hsa-miR-204-5p</text>
</g></svg>
<svg style="position:absolute;left:0;top:0" width="1139" height="809" viewBox="0 0 1139 809" font-family="Liberation Sans,sans-serif">
<rect x="792.0" y="541.5" width="227.0" height="221.0" fill="#2f7a40"/>
<g shape-rendering="crispEdges">
<path fill="#36843c" d="M792 541.5h23v1h-23zM792 544.5h23v1h-23zM792 546.5h23v1h-23zM792 560.5h23v1h-23zM792 573.5h23v2h-23zM792 579.5h23v1h-23zM792 611.5h23v1h-23zM792 673.5h23v1h-23zM792 677.5h23v1h-23zM792 686.5h23v1h-23zM792 698.5h23v1h-23zM792 703.5h23v1h-23zM792 730.5h23v1h-23zM792 752.5h23v1h-23zM815 541.5h22v1h-22zM815 550.5h22v1h-22zM815 641.5h22v1h-22zM815 658.5h22v1h-22zM815 660.5h22v1h-22zM815 743.5h22v1h-22zM815 755.5h22v1h-22zM837 573.5h23v1h-23zM837 610.5h23v1h-23zM837 628.5h23v1h-23zM837 650.5h23v1h-23zM837 653.5h23v1h-23zM837 698.5h23v1h-23zM837 701.5h23v1h-23zM837 712.5h23v1h-23zM837 744.5h23v1h-23zM837 760.5h23v1h-23zM860 550.5h23v1h-23zM860 586.5h23v1h-23zM860 588.5h23v1h-23zM860 593.5h23v1h-23zM860 604.5h23v1h-23zM860 612.5h23v1h-23zM860 670.5h23v2h-23zM860 697.5h23v1h-23zM883 578.5h23v1h-23zM883 593.5h23v2h-23zM883 611.5h23v1h-23zM883 625.5h23v1h-23zM883 634.5h23v1h-23zM883 637.5h23v1h-23zM883 654.5h23v1h-23zM883 692.5h23v1h-23zM883 712.5h23v1h-23zM883 716.5h23v1h-23zM883 741.5h23v1h-23zM906 691.5h22v1h-22zM906 707.5h22v1h-22zM906 709.5h22v2h-22zM906 726.5h22v1h-22zM906 731.5h22v1h-22zM906 738.5h22v1h-22zM906 740.5h22v1h-22zM906 744.5h22v2h-22zM906 751.5h22v1h-22zM906 757.5h22v1h-22zM928 590.5h23v1h-23zM928 612.5h23v1h-23zM928 674.5h23v2h-23zM928 728.5h23v2h-23zM928 731.5h23v1h-23zM928 735.5h23v1h-23zM928 738.5h23v1h-23zM928 743.5h23v1h-23zM928 754.5h23v2h-23zM928 760.5h23v1h-23zM951 550.5h23v1h-23zM951 558.5h23v1h-23zM951 560.5h23v1h-23zM951 573.5h23v1h-23zM951 592.5h23v1h-23zM951 658.5h23v1h-23zM951 667.5h23v1h-23zM951 672.5h23v1h-23zM951 692.5h23v1h-23zM951 718.5h23v1h-23zM951 720.5h23v1h-23zM951 725.5h23v1h-23zM951 729.5h23v1h-23zM951 732.5h23v1h-23zM951 743.5h23v1h-23zM951 747.5h23v1h-23zM951 750.5h23v1h-23zM951 755.5h23v2h-23zM974 639.5h22v1h-22zM974 678.5h22v1h-22zM974 716.5h22v1h-22zM974 720.5h22v1h-22zM974 724.5h22v1h-22zM974 729.5h22v1h-22zM974 738.5h22v1h-22zM974 746.5h22v1h-22zM974 754.5h22v1h-22zM996 580.5h23v1h-23zM996 634.5h23v1h-23zM996 668.5h23v1h-23zM996 671.5h23v1h-23zM996 673.5h23v1h-23zM996 742.5h23v1h-23zM996 746.5h23v3h-23z"/>
<path fill="#426030" d="M792 542.5h23v1h-23zM792 553.5h23v1h-23zM792 621.5h23v1h-23zM792 720.5h23v1h-23zM792 722.5h23v1h-23zM792 725.5h23v2h-23zM792 741.5h23v1h-23zM792 751.5h23v1h-23zM815 608.5h22v1h-22zM815 612.5h22v1h-22zM815 620.5h22v1h-22zM815 663.5h22v1h-22zM815 727.5h22v1h-22zM815 738.5h22v1h-22zM815 741.5h22v1h-22zM815 750.5h22v1h-22zM815 754.5h22v1h-22zM837 584.5h23v1h-23zM837 629.5h23v1h-23zM837 663.5h23v2h-23zM837 715.5h23v1h-23zM860 594.5h23v1h-23zM860 741.5h23v1h-23zM883 542.5h23v1h-23zM883 589.5h23v1h-23zM883 601.5h23v1h-23zM883 704.5h23v1h-23zM906 651.5h22v1h-22zM906 733.5h22v1h-22zM928 552.5h23v1h-23zM928 574.5h23v1h-23zM928 610.5h23v1h-23zM928 617.5h23v1h-23zM928 627.5h23v2h-23zM928 733.5h23v2h-23zM928 758.5h23v1h-23zM951 551.5h23v2h-23zM951 690.5h23v2h-23zM951 704.5h23v1h-23zM951 744.5h23v1h-23zM951 754.5h23v1h-23zM951 758.5h23v1h-23zM974 541.5h22v1h-22zM974 658.5h22v1h-22z"/>
<path fill="#306c36" d="M792 543.5h23v1h-23zM792 584.5h23v1h-23zM792 601.5h23v1h-23zM792 614.5h23v1h-23zM792 625.5h23v2h-23zM792 643.5h23v1h-23zM792 693.5h23v1h-23zM815 595.5h22v1h-22zM815 600.5h22v1h-22zM815 607.5h22v1h-22zM815 613.5h22v1h-22zM815 618.5h22v1h-22zM815 633.5h22v1h-22zM815 635.5h22v1h-22zM815 656.5h22v1h-22zM815 671.5h22v1h-22zM815 691.5h22v1h-22zM815 694.5h22v2h-22zM815 745.5h22v1h-22zM837 547.5h23v2h-23zM837 551.5h23v1h-23zM837 579.5h23v1h-23zM837 585.5h23v1h-23zM837 626.5h23v1h-23zM837 660.5h23v1h-23zM837 671.5h23v1h-23zM837 680.5h23v1h-23zM837 705.5h23v2h-23zM837 711.5h23v1h-23zM860 543.5h23v1h-23zM860 570.5h23v1h-23zM860 573.5h23v1h-23zM860 578.5h23v1h-23zM860 608.5h23v1h-23zM860 622.5h23v1h-23zM860 626.5h23v1h-23zM860 629.5h23v1h-23zM860 682.5h23v1h-23zM860 695.5h23v1h-23zM883 543.5h23v1h-23zM883 552.5h23v1h-23zM883 557.5h23v1h-23zM883 568.5h23v1h-23zM883 587.5h23v1h-23zM883 630.5h23v1h-23zM883 674.5h23v1h-23zM883 678.5h23v1h-23zM883 688.5h23v2h-23zM883 702.5h23v1h-23zM883 738.5h23v1h-23zM906 548.5h22v1h-22zM906 589.5h22v1h-22zM906 619.5h22v1h-22zM906 640.5h22v1h-22zM928 649.5h23v1h-23zM928 652.5h23v1h-23zM951 547.5h23v1h-23zM951 567.5h23v2h-23zM951 597.5h23v1h-23zM951 599.5h23v1h-23zM951 699.5h23v1h-23zM951 706.5h23v1h-23zM974 642.5h22v1h-22zM974 695.5h22v2h-22zM996 616.5h23v1h-23zM996 619.5h23v1h-23zM996 630.5h23v1h-23zM996 643.5h23v1h-23zM996 657.5h23v1h-23zM996 688.5h23v1h-23zM996 714.5h23v2h-23z"/>
<path fill="#3c9042" d="M792 545.5h23v1h-23zM792 569.5h23v1h-23zM815 712.5h22v1h-22zM837 654.5h23v1h-23zM860 596.5h23v1h-23zM906 611.5h22v1h-22zM906 717.5h22v1h-22zM906 743.5h22v1h-22zM906 752.5h22v1h-22zM928 623.5h23v1h-23zM951 662.5h23v1h-23zM951 724.5h23v1h-23zM951 742.5h23v1h-23zM996 637.5h23v1h-23zM996 716.5h23v1h-23zM996 743.5h23v1h-23z"/>
<path fill="#36783c" d="M792 547.5h23v1h-23zM792 554.5h23v1h-23zM792 558.5h23v1h-23zM792 572.5h23v1h-23zM792 576.5h23v1h-23zM792 594.5h23v1h-23zM792 602.5h23v1h-23zM792 604.5h23v2h-23zM792 610.5h23v1h-23zM792 613.5h23v1h-23zM792 616.5h23v1h-23zM792 628.5h23v1h-23zM792 644.5h23v1h-23zM792 651.5h23v1h-23zM792 658.5h23v1h-23zM792 669.5h23v2h-23zM792 672.5h23v1h-23zM792 679.5h23v1h-23zM792 682.5h23v1h-23zM792 688.5h23v1h-23zM792 690.5h23v2h-23zM792 697.5h23v1h-23zM792 701.5h23v2h-23zM792 708.5h23v1h-23zM792 713.5h23v1h-23zM792 718.5h23v1h-23zM792 731.5h23v1h-23zM792 739.5h23v1h-23zM792 755.5h23v1h-23zM815 545.5h22v1h-22zM815 549.5h22v1h-22zM815 556.5h22v1h-22zM815 560.5h22v2h-22zM815 564.5h22v1h-22zM815 572.5h22v1h-22zM815 574.5h22v1h-22zM815 605.5h22v1h-22zM815 619.5h22v1h-22zM815 638.5h22v1h-22zM815 644.5h22v2h-22zM815 659.5h22v1h-22zM815 662.5h22v1h-22zM815 665.5h22v1h-22zM815 672.5h22v2h-22zM815 692.5h22v1h-22zM815 739.5h22v1h-22zM837 559.5h23v1h-23zM837 562.5h23v1h-23zM837 583.5h23v1h-23zM837 596.5h23v1h-23zM837 607.5h23v1h-23zM837 622.5h23v1h-23zM837 639.5h23v1h-23zM837 658.5h23v1h-23zM837 665.5h23v1h-23zM837 668.5h23v1h-23zM837 673.5h23v1h-23zM837 677.5h23v1h-23zM837 687.5h23v1h-23zM837 690.5h23v1h-23zM837 697.5h23v1h-23zM837 714.5h23v1h-23zM837 718.5h23v1h-23zM837 746.5h23v2h-23zM837 753.5h23v1h-23zM837 757.5h23v1h-23zM860 546.5h23v1h-23zM860 549.5h23v1h-23zM860 552.5h23v1h-23zM860 558.5h23v1h-23zM860 562.5h23v1h-23zM860 582.5h23v1h-23zM860 595.5h23v1h-23zM860 600.5h23v1h-23zM860 617.5h23v1h-23zM860 619.5h23v1h-23zM860 623.5h23v1h-23zM860 632.5h23v1h-23zM860 647.5h23v2h-23zM860 650.5h23v1h-23zM860 658.5h23v2h-23zM860 665.5h23v1h-23zM860 672.5h23v1h-23zM860 691.5h23v1h-23zM860 699.5h23v1h-23zM860 710.5h23v1h-23zM860 729.5h23v1h-23zM860 743.5h23v1h-23zM860 754.5h23v1h-23zM883 555.5h23v1h-23zM883 559.5h23v1h-23zM883 563.5h23v1h-23zM883 565.5h23v1h-23zM883 574.5h23v1h-23zM883 579.5h23v1h-23zM883 591.5h23v1h-23zM883 600.5h23v1h-23zM883 616.5h23v1h-23zM883 623.5h23v1h-23zM883 639.5h23v1h-23zM883 645.5h23v1h-23zM883 668.5h23v1h-23zM883 676.5h23v1h-23zM883 686.5h23v1h-23zM883 697.5h23v1h-23zM883 701.5h23v1h-23zM883 703.5h23v1h-23zM883 709.5h23v2h-23zM883 734.5h23v1h-23zM883 746.5h23v1h-23zM883 761.5h23v1h-23zM906 549.5h22v3h-22zM906 559.5h22v1h-22zM906 578.5h22v1h-22zM906 581.5h22v2h-22zM906 588.5h22v1h-22zM906 591.5h22v1h-22zM906 605.5h22v1h-22zM906 613.5h22v1h-22zM906 711.5h22v1h-22zM906 725.5h22v1h-22zM906 748.5h22v1h-22zM906 754.5h22v1h-22zM928 542.5h23v1h-23zM928 565.5h23v1h-23zM928 569.5h23v2h-23zM928 572.5h23v1h-23zM928 582.5h23v1h-23zM928 591.5h23v1h-23zM928 601.5h23v2h-23zM928 613.5h23v1h-23zM928 618.5h23v2h-23zM928 625.5h23v1h-23zM928 633.5h23v1h-23zM928 642.5h23v1h-23zM928 655.5h23v1h-23zM928 657.5h23v1h-23zM928 740.5h23v1h-23zM928 750.5h23v1h-23zM928 759.5h23v1h-23zM951 544.5h23v1h-23zM951 559.5h23v1h-23zM951 575.5h23v1h-23zM951 583.5h23v1h-23zM951 655.5h23v1h-23zM951 661.5h23v1h-23zM951 671.5h23v1h-23zM951 675.5h23v1h-23zM951 689.5h23v1h-23zM951 736.5h23v1h-23zM974 616.5h22v1h-22zM974 620.5h22v1h-22zM974 625.5h22v1h-22zM974 632.5h22v1h-22zM974 638.5h22v1h-22zM974 644.5h22v4h-22zM974 662.5h22v1h-22zM974 674.5h22v2h-22zM974 706.5h22v1h-22zM974 710.5h22v1h-22zM974 713.5h22v1h-22zM974 725.5h22v1h-22zM974 728.5h22v1h-22zM974 734.5h22v1h-22zM996 564.5h23v2h-23zM996 570.5h23v1h-23zM996 581.5h23v1h-23zM996 583.5h23v1h-23zM996 606.5h23v1h-23zM996 611.5h23v1h-23zM996 628.5h23v1h-23zM996 632.5h23v1h-23zM996 647.5h23v1h-23zM996 687.5h23v1h-23zM996 692.5h23v1h-23zM996 696.5h23v2h-23zM996 699.5h23v1h-23zM996 703.5h23v1h-23zM996 707.5h23v1h-23zM996 739.5h23v1h-23z"/>
<path fill="#4e4e2a" d="M792 548.5h23v2h-23zM792 555.5h23v2h-23zM792 568.5h23v1h-23zM792 597.5h23v1h-23zM792 630.5h23v2h-23zM792 638.5h23v2h-23zM792 656.5h23v2h-23zM815 578.5h22v2h-22zM815 599.5h22v1h-22zM815 668.5h22v1h-22zM837 571.5h23v1h-23zM837 655.5h23v1h-23zM837 742.5h23v2h-23zM837 751.5h23v1h-23zM860 566.5h23v2h-23zM860 580.5h23v1h-23zM860 680.5h23v1h-23zM883 546.5h23v1h-23zM883 621.5h23v1h-23zM883 635.5h23v1h-23zM883 648.5h23v1h-23zM883 700.5h23v1h-23zM906 623.5h22v1h-22zM906 652.5h22v1h-22zM906 695.5h22v1h-22zM928 546.5h23v1h-23zM928 624.5h23v1h-23zM928 656.5h23v1h-23zM928 723.5h23v1h-23zM951 546.5h23v1h-23zM951 659.5h23v1h-23zM974 633.5h22v1h-22zM974 686.5h22v1h-22zM974 749.5h22v1h-22zM974 751.5h22v2h-22zM996 701.5h23v1h-23zM996 757.5h23v1h-23z"/>
<path fill="#30723c" d="M792 550.5h23v3h-23zM792 567.5h23v1h-23zM792 581.5h23v1h-23zM792 585.5h23v1h-23zM792 599.5h23v1h-23zM792 607.5h23v1h-23zM792 612.5h23v1h-23zM792 617.5h23v1h-23zM792 619.5h23v2h-23zM792 623.5h23v1h-23zM792 627.5h23v1h-23zM792 653.5h23v1h-23zM792 655.5h23v1h-23zM792 661.5h23v2h-23zM792 664.5h23v2h-23zM792 671.5h23v1h-23zM792 681.5h23v1h-23zM792 684.5h23v1h-23zM792 689.5h23v1h-23zM792 706.5h23v2h-23zM792 709.5h23v2h-23zM792 715.5h23v1h-23zM792 736.5h23v3h-23zM792 740.5h23v1h-23zM792 756.5h23v1h-23zM792 761.5h23v1h-23zM815 543.5h22v1h-22zM815 552.5h22v1h-22zM815 555.5h22v1h-22zM815 558.5h22v1h-22zM815 567.5h22v1h-22zM815 570.5h22v2h-22zM815 577.5h22v1h-22zM815 586.5h22v1h-22zM815 588.5h22v1h-22zM815 591.5h22v1h-22zM815 593.5h22v2h-22zM815 601.5h22v1h-22zM815 604.5h22v1h-22zM815 610.5h22v1h-22zM815 616.5h22v1h-22zM815 624.5h22v1h-22zM815 632.5h22v1h-22zM815 636.5h22v2h-22zM815 639.5h22v2h-22zM815 646.5h22v2h-22zM815 649.5h22v1h-22zM815 664.5h22v1h-22zM815 667.5h22v1h-22zM815 670.5h22v1h-22zM815 678.5h22v2h-22zM815 681.5h22v1h-22zM815 685.5h22v1h-22zM815 688.5h22v2h-22zM815 693.5h22v1h-22zM815 699.5h22v2h-22zM815 705.5h22v2h-22zM815 746.5h22v1h-22zM837 545.5h23v2h-23zM837 550.5h23v1h-23zM837 552.5h23v1h-23zM837 555.5h23v1h-23zM837 558.5h23v1h-23zM837 560.5h23v1h-23zM837 567.5h23v1h-23zM837 570.5h23v1h-23zM837 574.5h23v1h-23zM837 576.5h23v1h-23zM837 578.5h23v1h-23zM837 581.5h23v1h-23zM837 586.5h23v1h-23zM837 590.5h23v1h-23zM837 592.5h23v1h-23zM837 594.5h23v1h-23zM837 601.5h23v1h-23zM837 604.5h23v1h-23zM837 606.5h23v1h-23zM837 609.5h23v1h-23zM837 612.5h23v1h-23zM837 619.5h23v1h-23zM837 621.5h23v1h-23zM837 631.5h23v1h-23zM837 633.5h23v3h-23zM837 638.5h23v1h-23zM837 642.5h23v1h-23zM837 646.5h23v1h-23zM837 648.5h23v2h-23zM837 659.5h23v1h-23zM837 667.5h23v1h-23zM837 669.5h23v1h-23zM837 676.5h23v1h-23zM837 683.5h23v1h-23zM837 685.5h23v2h-23zM837 688.5h23v2h-23zM837 694.5h23v1h-23zM837 700.5h23v1h-23zM837 707.5h23v1h-23zM837 709.5h23v1h-23zM837 749.5h23v1h-23zM837 756.5h23v1h-23zM837 761.5h23v1h-23zM860 547.5h23v1h-23zM860 551.5h23v1h-23zM860 557.5h23v1h-23zM860 561.5h23v1h-23zM860 575.5h23v1h-23zM860 597.5h23v3h-23zM860 606.5h23v1h-23zM860 615.5h23v1h-23zM860 625.5h23v1h-23zM860 627.5h23v1h-23zM860 630.5h23v2h-23zM860 633.5h23v1h-23zM860 636.5h23v2h-23zM860 641.5h23v1h-23zM860 645.5h23v1h-23zM860 652.5h23v2h-23zM860 657.5h23v1h-23zM860 660.5h23v1h-23zM860 664.5h23v1h-23zM860 675.5h23v2h-23zM860 681.5h23v1h-23zM860 683.5h23v1h-23zM860 687.5h23v1h-23zM860 690.5h23v1h-23zM860 693.5h23v2h-23zM860 696.5h23v1h-23zM860 706.5h23v2h-23zM860 711.5h23v1h-23zM860 714.5h23v2h-23zM860 734.5h23v1h-23zM860 736.5h23v1h-23zM860 739.5h23v1h-23zM860 756.5h23v3h-23zM860 761.5h23v1h-23zM883 549.5h23v2h-23zM883 562.5h23v1h-23zM883 564.5h23v1h-23zM883 566.5h23v1h-23zM883 570.5h23v1h-23zM883 585.5h23v1h-23zM883 588.5h23v1h-23zM883 599.5h23v1h-23zM883 606.5h23v1h-23zM883 608.5h23v2h-23zM883 622.5h23v1h-23zM883 624.5h23v1h-23zM883 629.5h23v1h-23zM883 642.5h23v3h-23zM883 646.5h23v2h-23zM883 653.5h23v1h-23zM883 656.5h23v1h-23zM883 660.5h23v1h-23zM883 662.5h23v1h-23zM883 665.5h23v1h-23zM883 670.5h23v1h-23zM883 673.5h23v1h-23zM883 675.5h23v1h-23zM883 677.5h23v1h-23zM883 680.5h23v1h-23zM883 682.5h23v3h-23zM883 687.5h23v1h-23zM883 690.5h23v1h-23zM883 694.5h23v1h-23zM883 706.5h23v2h-23zM883 715.5h23v1h-23zM883 718.5h23v1h-23zM883 735.5h23v1h-23zM883 745.5h23v1h-23zM883 756.5h23v1h-23zM906 560.5h22v1h-22zM906 577.5h22v1h-22zM906 579.5h22v1h-22zM906 587.5h22v1h-22zM906 590.5h22v1h-22zM906 596.5h22v1h-22zM906 599.5h22v1h-22zM906 604.5h22v1h-22zM906 608.5h22v1h-22zM906 614.5h22v1h-22zM906 627.5h22v1h-22zM906 629.5h22v1h-22zM906 632.5h22v2h-22zM906 636.5h22v1h-22zM906 683.5h22v1h-22zM906 685.5h22v3h-22zM906 689.5h22v2h-22zM906 699.5h22v1h-22zM906 705.5h22v1h-22zM906 714.5h22v1h-22zM906 761.5h22v1h-22zM928 547.5h23v1h-23zM928 553.5h23v4h-23zM928 562.5h23v1h-23zM928 564.5h23v1h-23zM928 566.5h23v1h-23zM928 568.5h23v1h-23zM928 576.5h23v2h-23zM928 585.5h23v2h-23zM928 589.5h23v1h-23zM928 614.5h23v3h-23zM928 636.5h23v2h-23zM928 640.5h23v1h-23zM928 644.5h23v1h-23zM928 647.5h23v1h-23zM928 651.5h23v1h-23zM928 658.5h23v1h-23zM928 663.5h23v1h-23zM928 670.5h23v1h-23zM928 748.5h23v1h-23zM928 751.5h23v1h-23zM951 561.5h23v1h-23zM951 565.5h23v2h-23zM951 570.5h23v1h-23zM951 572.5h23v1h-23zM951 576.5h23v1h-23zM951 578.5h23v1h-23zM951 674.5h23v1h-23zM951 676.5h23v3h-23zM951 688.5h23v1h-23zM951 696.5h23v2h-23zM951 702.5h23v1h-23zM951 734.5h23v2h-23zM951 748.5h23v1h-23zM951 759.5h23v1h-23zM951 761.5h23v1h-23zM974 626.5h22v1h-22zM974 631.5h22v1h-22zM974 640.5h22v1h-22zM974 655.5h22v1h-22zM974 657.5h22v1h-22zM974 670.5h22v2h-22zM974 679.5h22v1h-22zM974 687.5h22v1h-22zM974 690.5h22v1h-22zM974 693.5h22v2h-22zM974 709.5h22v1h-22zM974 718.5h22v1h-22zM996 562.5h23v1h-23zM996 566.5h23v2h-23zM996 572.5h23v3h-23zM996 576.5h23v1h-23zM996 613.5h23v2h-23zM996 620.5h23v1h-23zM996 622.5h23v1h-23zM996 631.5h23v1h-23zM996 633.5h23v1h-23zM996 644.5h23v1h-23zM996 648.5h23v1h-23zM996 651.5h23v1h-23zM996 658.5h23v2h-23zM996 678.5h23v1h-23zM996 686.5h23v1h-23zM996 689.5h23v3h-23zM996 693.5h23v2h-23zM996 702.5h23v1h-23zM996 706.5h23v1h-23zM996 740.5h23v1h-23zM996 756.5h23v1h-23zM996 759.5h23v1h-23z"/>
<path fill="#2a6636" d="M792 557.5h23v1h-23zM792 603.5h23v1h-23zM792 629.5h23v1h-23zM792 704.5h23v1h-23zM792 711.5h23v1h-23zM792 714.5h23v1h-23zM815 553.5h22v2h-22zM815 557.5h22v1h-22zM815 587.5h22v1h-22zM815 589.5h22v1h-22zM815 597.5h22v2h-22zM815 603.5h22v1h-22zM815 617.5h22v1h-22zM815 630.5h22v1h-22zM815 682.5h22v1h-22zM815 684.5h22v1h-22zM815 686.5h22v1h-22zM815 704.5h22v1h-22zM815 737.5h22v1h-22zM815 748.5h22v1h-22zM815 751.5h22v1h-22zM837 553.5h23v2h-23zM837 587.5h23v1h-23zM837 615.5h23v2h-23zM837 630.5h23v1h-23zM837 662.5h23v1h-23zM837 666.5h23v1h-23zM837 695.5h23v1h-23zM860 574.5h23v1h-23zM860 576.5h23v1h-23zM860 624.5h23v1h-23zM860 642.5h23v1h-23zM860 644.5h23v1h-23zM860 688.5h23v1h-23zM860 704.5h23v1h-23zM883 551.5h23v1h-23zM883 577.5h23v1h-23zM883 598.5h23v1h-23zM883 602.5h23v2h-23zM883 649.5h23v1h-23zM883 652.5h23v1h-23zM883 671.5h23v2h-23zM906 593.5h22v1h-22zM906 595.5h22v1h-22zM906 597.5h22v2h-22zM906 606.5h22v1h-22zM928 557.5h23v1h-23zM928 567.5h23v1h-23zM928 660.5h23v3h-23zM928 664.5h23v1h-23zM951 595.5h23v1h-23zM951 598.5h23v1h-23zM951 680.5h23v1h-23zM974 656.5h22v1h-22zM974 661.5h22v1h-22zM974 688.5h22v2h-22zM974 727.5h22v1h-22zM996 577.5h23v1h-23zM996 617.5h23v1h-23zM996 626.5h23v1h-23zM996 629.5h23v1h-23zM996 649.5h23v1h-23zM996 695.5h23v1h-23zM996 705.5h23v1h-23z"/>
<path fill="#367e3c" d="M792 559.5h23v1h-23zM792 561.5h23v1h-23zM792 564.5h23v3h-23zM792 582.5h23v2h-23zM792 588.5h23v1h-23zM792 590.5h23v1h-23zM792 596.5h23v1h-23zM792 600.5h23v1h-23zM792 622.5h23v1h-23zM792 633.5h23v1h-23zM792 647.5h23v1h-23zM792 650.5h23v1h-23zM792 680.5h23v1h-23zM792 683.5h23v1h-23zM792 685.5h23v1h-23zM792 696.5h23v1h-23zM792 716.5h23v2h-23zM792 734.5h23v1h-23zM792 760.5h23v1h-23zM815 547.5h22v2h-22zM815 559.5h22v1h-22zM815 562.5h22v2h-22zM815 565.5h22v1h-22zM815 569.5h22v1h-22zM815 573.5h22v1h-22zM815 575.5h22v1h-22zM815 582.5h22v1h-22zM815 585.5h22v1h-22zM815 590.5h22v1h-22zM815 611.5h22v1h-22zM815 623.5h22v1h-22zM815 625.5h22v1h-22zM815 627.5h22v2h-22zM815 634.5h22v1h-22zM815 642.5h22v1h-22zM815 650.5h22v2h-22zM815 676.5h22v1h-22zM815 680.5h22v1h-22zM815 687.5h22v1h-22zM815 696.5h22v1h-22zM815 701.5h22v1h-22zM815 703.5h22v1h-22zM815 707.5h22v1h-22zM815 709.5h22v1h-22zM815 714.5h22v5h-22zM815 728.5h22v1h-22zM815 730.5h22v1h-22zM815 744.5h22v1h-22zM815 747.5h22v1h-22zM815 753.5h22v1h-22zM837 544.5h23v1h-23zM837 549.5h23v1h-23zM837 561.5h23v1h-23zM837 563.5h23v4h-23zM837 568.5h23v2h-23zM837 572.5h23v1h-23zM837 575.5h23v1h-23zM837 580.5h23v1h-23zM837 602.5h23v1h-23zM837 611.5h23v1h-23zM837 623.5h23v1h-23zM837 641.5h23v1h-23zM837 645.5h23v1h-23zM837 651.5h23v2h-23zM837 675.5h23v1h-23zM837 678.5h23v1h-23zM837 692.5h23v2h-23zM837 703.5h23v1h-23zM837 708.5h23v1h-23zM837 710.5h23v1h-23zM837 713.5h23v1h-23zM837 729.5h23v1h-23zM837 745.5h23v1h-23zM837 759.5h23v1h-23zM860 541.5h23v1h-23zM860 548.5h23v1h-23zM860 556.5h23v1h-23zM860 560.5h23v1h-23zM860 563.5h23v3h-23zM860 568.5h23v2h-23zM860 581.5h23v1h-23zM860 587.5h23v1h-23zM860 590.5h23v3h-23zM860 602.5h23v1h-23zM860 618.5h23v1h-23zM860 628.5h23v1h-23zM860 634.5h23v2h-23zM860 663.5h23v1h-23zM860 667.5h23v1h-23zM860 669.5h23v1h-23zM860 692.5h23v1h-23zM860 698.5h23v1h-23zM860 701.5h23v1h-23zM860 703.5h23v1h-23zM860 716.5h23v2h-23zM860 755.5h23v1h-23zM860 760.5h23v1h-23zM883 541.5h23v1h-23zM883 545.5h23v1h-23zM883 547.5h23v1h-23zM883 558.5h23v1h-23zM883 569.5h23v1h-23zM883 573.5h23v1h-23zM883 583.5h23v1h-23zM883 590.5h23v1h-23zM883 595.5h23v1h-23zM883 612.5h23v2h-23zM883 617.5h23v1h-23zM883 626.5h23v2h-23zM883 631.5h23v1h-23zM883 636.5h23v1h-23zM883 641.5h23v1h-23zM883 659.5h23v1h-23zM883 685.5h23v1h-23zM883 693.5h23v1h-23zM883 698.5h23v1h-23zM883 717.5h23v1h-23zM883 740.5h23v1h-23zM883 757.5h23v1h-23zM906 541.5h22v2h-22zM906 547.5h22v1h-22zM906 580.5h22v1h-22zM906 583.5h22v1h-22zM906 612.5h22v1h-22zM906 618.5h22v1h-22zM906 622.5h22v1h-22zM906 628.5h22v1h-22zM906 630.5h22v2h-22zM906 634.5h22v1h-22zM906 637.5h22v3h-22zM906 694.5h22v1h-22zM906 700.5h22v2h-22zM906 706.5h22v1h-22zM906 713.5h22v1h-22zM906 718.5h22v1h-22zM906 729.5h22v1h-22zM906 737.5h22v1h-22zM906 756.5h22v1h-22zM906 758.5h22v2h-22zM928 545.5h23v1h-23zM928 549.5h23v2h-23zM928 560.5h23v1h-23zM928 573.5h23v1h-23zM928 579.5h23v1h-23zM928 581.5h23v1h-23zM928 583.5h23v2h-23zM928 587.5h23v2h-23zM928 599.5h23v2h-23zM928 604.5h23v1h-23zM928 621.5h23v1h-23zM928 641.5h23v1h-23zM928 645.5h23v1h-23zM928 673.5h23v1h-23zM928 725.5h23v1h-23zM928 727.5h23v1h-23zM928 737.5h23v1h-23zM928 749.5h23v1h-23zM928 756.5h23v2h-23zM928 761.5h23v1h-23zM951 569.5h23v1h-23zM951 580.5h23v1h-23zM951 582.5h23v1h-23zM951 584.5h23v2h-23zM951 593.5h23v1h-23zM951 600.5h23v1h-23zM951 660.5h23v1h-23zM951 668.5h23v2h-23zM951 673.5h23v1h-23zM951 693.5h23v1h-23zM951 698.5h23v1h-23zM951 708.5h23v1h-23zM951 721.5h23v1h-23zM951 733.5h23v1h-23zM951 737.5h23v1h-23zM951 745.5h23v2h-23zM951 749.5h23v1h-23zM951 753.5h23v1h-23zM974 615.5h22v1h-22zM974 617.5h22v1h-22zM974 619.5h22v1h-22zM974 641.5h22v1h-22zM974 649.5h22v1h-22zM974 651.5h22v3h-22zM974 673.5h22v1h-22zM974 701.5h22v1h-22zM974 719.5h22v1h-22zM974 735.5h22v3h-22zM974 747.5h22v1h-22zM974 750.5h22v1h-22zM974 757.5h22v3h-22zM996 563.5h23v1h-23zM996 568.5h23v2h-23zM996 571.5h23v1h-23zM996 578.5h23v1h-23zM996 584.5h23v1h-23zM996 610.5h23v1h-23zM996 612.5h23v1h-23zM996 641.5h23v1h-23zM996 645.5h23v1h-23zM996 653.5h23v1h-23zM996 660.5h23v1h-23zM996 665.5h23v1h-23zM996 667.5h23v1h-23zM996 669.5h23v2h-23zM996 672.5h23v1h-23zM996 674.5h23v3h-23zM996 685.5h23v1h-23zM996 700.5h23v1h-23zM996 711.5h23v1h-23zM996 736.5h23v3h-23zM996 752.5h23v1h-23zM996 754.5h23v1h-23zM996 760.5h23v2h-23z"/>
<path fill="#3c8a3c" d="M792 562.5h23v2h-23zM792 580.5h23v1h-23zM792 646.5h23v1h-23zM792 667.5h23v2h-23zM792 674.5h23v3h-23zM792 687.5h23v1h-23zM792 732.5h23v2h-23zM815 580.5h22v1h-22zM815 583.5h22v1h-22zM815 654.5h22v1h-22zM815 708.5h22v1h-22zM815 713.5h22v1h-22zM815 729.5h22v1h-22zM860 712.5h23v1h-23zM883 580.5h23v1h-23zM883 691.5h23v1h-23zM883 713.5h23v1h-23zM883 742.5h23v3h-23zM883 758.5h23v1h-23zM906 610.5h22v1h-22zM906 697.5h22v1h-22zM906 703.5h22v1h-22zM906 712.5h22v1h-22zM906 722.5h22v1h-22zM906 724.5h22v1h-22zM906 730.5h22v1h-22zM906 732.5h22v1h-22zM906 739.5h22v1h-22zM906 741.5h22v1h-22zM906 749.5h22v1h-22zM906 753.5h22v1h-22zM906 760.5h22v1h-22zM928 571.5h23v1h-23zM928 580.5h23v1h-23zM928 622.5h23v1h-23zM928 722.5h23v1h-23zM928 724.5h23v1h-23zM928 742.5h23v1h-23zM928 744.5h23v1h-23zM928 752.5h23v1h-23zM951 665.5h23v1h-23zM951 728.5h23v1h-23zM951 730.5h23v2h-23zM951 738.5h23v1h-23zM951 757.5h23v1h-23zM974 634.5h22v1h-22zM974 650.5h22v1h-22zM974 654.5h22v1h-22zM974 717.5h22v1h-22zM974 721.5h22v3h-22zM974 731.5h22v1h-22zM974 739.5h22v3h-22zM974 744.5h22v1h-22zM996 654.5h23v1h-23zM996 709.5h23v2h-23zM996 713.5h23v1h-23zM996 719.5h23v1h-23zM996 753.5h23v1h-23z"/>
<path fill="#54482a" d="M792 570.5h23v2h-23zM792 575.5h23v1h-23zM792 586.5h23v2h-23zM792 660.5h23v1h-23zM792 727.5h23v1h-23zM815 566.5h22v1h-22zM815 576.5h22v1h-22zM815 614.5h22v2h-22zM815 626.5h22v1h-22zM815 629.5h22v1h-22zM815 643.5h22v1h-22zM815 733.5h22v1h-22zM815 742.5h22v1h-22zM837 556.5h23v1h-23zM837 620.5h23v1h-23zM837 627.5h23v1h-23zM837 681.5h23v2h-23zM860 554.5h23v2h-23zM860 603.5h23v1h-23zM860 610.5h23v2h-23zM860 662.5h23v1h-23zM860 668.5h23v1h-23zM860 702.5h23v1h-23zM883 618.5h23v2h-23zM883 661.5h23v1h-23zM883 695.5h23v1h-23zM906 625.5h22v1h-22zM974 543.5h22v1h-22z"/>
<path fill="#425a30" d="M792 577.5h23v2h-23zM792 635.5h23v2h-23zM792 678.5h23v1h-23zM792 700.5h23v1h-23zM792 723.5h23v2h-23zM792 757.5h23v1h-23zM815 606.5h22v1h-22zM815 652.5h22v1h-22zM815 756.5h22v1h-22zM837 582.5h23v1h-23zM837 636.5h23v2h-23zM837 755.5h23v1h-23zM860 708.5h23v2h-23zM996 602.5h23v1h-23z"/>
<path fill="#48542a" d="M792 589.5h23v1h-23zM792 663.5h23v1h-23zM792 728.5h23v1h-23zM792 754.5h23v1h-23zM815 655.5h22v1h-22zM815 666.5h22v1h-22zM837 608.5h23v1h-23zM860 584.5h23v1h-23zM860 713.5h23v1h-23zM860 728.5h23v1h-23zM883 575.5h23v1h-23zM883 592.5h23v1h-23z"/>
<path fill="#306c3c" d="M792 591.5h23v1h-23zM792 598.5h23v1h-23zM792 618.5h23v1h-23zM792 649.5h23v1h-23zM792 694.5h23v1h-23zM815 596.5h22v1h-22zM815 657.5h22v1h-22zM815 661.5h22v1h-22zM815 669.5h22v1h-22zM815 674.5h22v1h-22zM815 677.5h22v1h-22zM815 690.5h22v1h-22zM815 740.5h22v1h-22zM837 603.5h23v1h-23zM837 605.5h23v1h-23zM837 656.5h23v2h-23zM837 696.5h23v1h-23zM837 699.5h23v1h-23zM860 544.5h23v1h-23zM860 572.5h23v1h-23zM860 579.5h23v1h-23zM860 609.5h23v1h-23zM860 616.5h23v1h-23zM860 620.5h23v1h-23zM860 638.5h23v1h-23zM860 640.5h23v1h-23zM860 651.5h23v1h-23zM860 655.5h23v1h-23zM860 674.5h23v1h-23zM860 677.5h23v1h-23zM883 553.5h23v1h-23zM883 597.5h23v1h-23zM883 605.5h23v1h-23zM883 666.5h23v1h-23zM883 681.5h23v1h-23zM883 711.5h23v1h-23zM883 736.5h23v1h-23zM906 594.5h22v1h-22zM906 601.5h22v1h-22zM906 727.5h22v1h-22zM974 685.5h22v1h-22zM996 627.5h23v1h-23zM996 677.5h23v1h-23zM996 683.5h23v1h-23z"/>
<path fill="#603624" d="M792 592.5h23v2h-23zM792 608.5h23v1h-23zM815 546.5h22v1h-22zM815 734.5h22v1h-22zM815 736.5h22v1h-22zM815 749.5h22v1h-22zM837 595.5h23v1h-23zM837 624.5h23v2h-23zM837 674.5h23v1h-23zM837 691.5h23v1h-23zM883 632.5h23v1h-23zM883 679.5h23v1h-23zM883 760.5h23v1h-23zM906 624.5h22v1h-22z"/>
<path fill="#30783c" d="M792 595.5h23v1h-23zM792 606.5h23v1h-23zM792 609.5h23v1h-23zM792 632.5h23v1h-23zM792 641.5h23v2h-23zM792 648.5h23v1h-23zM792 652.5h23v1h-23zM792 659.5h23v1h-23zM792 666.5h23v1h-23zM792 692.5h23v1h-23zM792 705.5h23v1h-23zM792 712.5h23v1h-23zM792 729.5h23v1h-23zM792 758.5h23v2h-23zM815 544.5h22v1h-22zM815 551.5h22v1h-22zM815 568.5h22v1h-22zM815 592.5h22v1h-22zM815 602.5h22v1h-22zM815 609.5h22v1h-22zM815 621.5h22v2h-22zM815 631.5h22v1h-22zM815 648.5h22v1h-22zM815 653.5h22v1h-22zM815 675.5h22v1h-22zM815 702.5h22v1h-22zM815 711.5h22v1h-22zM815 752.5h22v1h-22zM837 541.5h23v2h-23zM837 588.5h23v1h-23zM837 591.5h23v1h-23zM837 593.5h23v1h-23zM837 640.5h23v1h-23zM837 644.5h23v1h-23zM837 647.5h23v1h-23zM837 672.5h23v1h-23zM837 679.5h23v1h-23zM837 702.5h23v1h-23zM837 752.5h23v1h-23zM860 545.5h23v1h-23zM860 553.5h23v1h-23zM860 559.5h23v1h-23zM860 585.5h23v1h-23zM860 601.5h23v1h-23zM860 605.5h23v1h-23zM860 607.5h23v1h-23zM860 613.5h23v2h-23zM860 639.5h23v1h-23zM860 646.5h23v1h-23zM860 649.5h23v1h-23zM860 656.5h23v1h-23zM860 673.5h23v1h-23zM860 678.5h23v1h-23zM860 684.5h23v3h-23zM860 700.5h23v1h-23zM860 737.5h23v1h-23zM860 740.5h23v1h-23zM860 742.5h23v1h-23zM860 759.5h23v1h-23zM883 544.5h23v1h-23zM883 556.5h23v1h-23zM883 560.5h23v2h-23zM883 567.5h23v1h-23zM883 571.5h23v2h-23zM883 576.5h23v1h-23zM883 581.5h23v2h-23zM883 586.5h23v1h-23zM883 596.5h23v1h-23zM883 604.5h23v1h-23zM883 607.5h23v1h-23zM883 610.5h23v1h-23zM883 614.5h23v2h-23zM883 620.5h23v1h-23zM883 640.5h23v1h-23zM883 663.5h23v2h-23zM883 667.5h23v1h-23zM883 696.5h23v1h-23zM883 705.5h23v1h-23zM883 714.5h23v1h-23zM883 728.5h23v2h-23zM883 739.5h23v1h-23zM883 747.5h23v1h-23zM906 552.5h22v1h-22zM906 584.5h22v1h-22zM906 600.5h22v1h-22zM906 609.5h22v1h-22zM906 617.5h22v1h-22zM906 696.5h22v1h-22zM906 704.5h22v1h-22zM906 715.5h22v1h-22zM906 719.5h22v1h-22zM906 736.5h22v1h-22zM928 541.5h23v1h-23zM928 561.5h23v1h-23zM928 578.5h23v1h-23zM928 592.5h23v1h-23zM928 620.5h23v1h-23zM928 626.5h23v1h-23zM928 634.5h23v2h-23zM928 646.5h23v1h-23zM928 650.5h23v1h-23zM928 653.5h23v1h-23zM928 672.5h23v1h-23zM951 545.5h23v1h-23zM951 549.5h23v1h-23zM951 571.5h23v1h-23zM951 574.5h23v1h-23zM951 579.5h23v1h-23zM951 581.5h23v1h-23zM951 594.5h23v1h-23zM951 657.5h23v1h-23zM951 666.5h23v1h-23zM951 670.5h23v1h-23zM951 707.5h23v1h-23zM974 623.5h22v2h-22zM974 628.5h22v1h-22zM974 637.5h22v1h-22zM974 659.5h22v1h-22zM974 672.5h22v1h-22zM974 677.5h22v1h-22zM974 691.5h22v1h-22zM974 699.5h22v2h-22zM974 702.5h22v1h-22zM974 707.5h22v1h-22zM974 711.5h22v1h-22zM974 726.5h22v1h-22zM974 748.5h22v1h-22zM996 579.5h23v1h-23zM996 582.5h23v1h-23zM996 588.5h23v1h-23zM996 605.5h23v1h-23zM996 608.5h23v2h-23zM996 623.5h23v1h-23zM996 640.5h23v1h-23zM996 642.5h23v1h-23zM996 646.5h23v1h-23zM996 650.5h23v1h-23zM996 652.5h23v1h-23zM996 666.5h23v1h-23zM996 681.5h23v2h-23zM996 751.5h23v1h-23zM996 758.5h23v1h-23z"/>
<path fill="#2a6c36" d="M792 615.5h23v1h-23zM792 695.5h23v1h-23zM792 699.5h23v1h-23zM837 543.5h23v1h-23zM837 613.5h23v1h-23zM837 618.5h23v1h-23zM837 632.5h23v1h-23zM837 643.5h23v1h-23zM837 670.5h23v1h-23zM837 684.5h23v1h-23zM837 748.5h23v1h-23zM860 571.5h23v1h-23zM860 621.5h23v1h-23zM860 679.5h23v1h-23zM860 689.5h23v1h-23zM860 705.5h23v1h-23zM860 718.5h23v1h-23zM860 735.5h23v1h-23zM860 738.5h23v1h-23zM883 548.5h23v1h-23zM883 554.5h23v1h-23zM883 650.5h23v2h-23zM883 657.5h23v2h-23zM883 699.5h23v1h-23zM883 737.5h23v1h-23zM906 603.5h22v1h-22zM906 684.5h22v1h-22zM928 597.5h23v1h-23zM928 643.5h23v1h-23zM928 665.5h23v1h-23zM951 701.5h23v1h-23zM951 705.5h23v1h-23zM974 627.5h22v1h-22zM974 630.5h22v1h-22zM974 643.5h22v1h-22zM974 660.5h22v1h-22zM974 714.5h22v1h-22zM996 615.5h23v1h-23zM996 618.5h23v1h-23zM996 621.5h23v1h-23z"/>
<path fill="#2a6036" d="M792 624.5h23v1h-23zM792 637.5h23v1h-23zM792 640.5h23v1h-23zM792 735.5h23v1h-23zM815 683.5h22v1h-22zM837 557.5h23v1h-23zM837 614.5h23v1h-23zM837 617.5h23v1h-23zM837 661.5h23v1h-23zM837 704.5h23v1h-23zM837 758.5h23v1h-23zM860 643.5h23v1h-23zM860 661.5h23v1h-23zM883 669.5h23v1h-23zM906 621.5h22v1h-22zM906 688.5h22v1h-22zM951 577.5h23v1h-23zM951 679.5h23v1h-23zM974 629.5h22v1h-22zM996 656.5h23v1h-23zM996 704.5h23v1h-23z"/>
<path fill="#3c843c" d="M792 634.5h23v1h-23zM792 645.5h23v1h-23zM815 581.5h22v1h-22zM815 697.5h22v2h-22zM837 716.5h23v2h-23zM860 583.5h23v1h-23zM860 654.5h23v1h-23zM883 633.5h23v1h-23zM883 638.5h23v1h-23zM883 708.5h23v1h-23zM883 759.5h23v1h-23zM906 692.5h22v1h-22zM906 708.5h22v1h-22zM906 721.5h22v1h-22zM906 734.5h22v1h-22zM906 750.5h22v1h-22zM906 755.5h22v1h-22zM928 575.5h23v1h-23zM928 726.5h23v1h-23zM928 732.5h23v1h-23zM928 736.5h23v1h-23zM928 745.5h23v3h-23zM951 703.5h23v1h-23zM974 743.5h22v1h-22zM974 745.5h22v1h-22zM974 753.5h22v1h-22zM996 708.5h23v1h-23zM996 749.5h23v1h-23z"/>
<path fill="#3c903c" d="M792 654.5h23v1h-23zM883 628.5h23v1h-23zM928 611.5h23v1h-23zM928 730.5h23v1h-23zM951 663.5h23v1h-23zM951 717.5h23v1h-23zM996 698.5h23v1h-23zM996 755.5h23v1h-23z"/>
<path fill="#721e18" d="M792 719.5h23v1h-23zM860 724.5h23v1h-23zM860 726.5h23v1h-23zM928 608.5h23v1h-23z"/>
<path fill="#7e1818" d="M792 721.5h23v1h-23zM837 730.5h23v1h-23zM860 725.5h23v1h-23zM860 745.5h23v1h-23zM883 720.5h23v1h-23zM883 723.5h23v1h-23zM906 546.5h22v1h-22zM906 557.5h22v1h-22zM906 570.5h22v1h-22zM906 592.5h22v1h-22zM906 607.5h22v1h-22zM906 693.5h22v1h-22zM906 723.5h22v1h-22zM928 548.5h23v1h-23zM928 603.5h23v1h-23zM951 548.5h23v1h-23zM951 590.5h23v1h-23zM951 687.5h23v1h-23zM951 722.5h23v2h-23zM951 751.5h23v2h-23zM974 546.5h22v1h-22zM974 614.5h22v1h-22zM974 663.5h22v1h-22zM974 668.5h22v1h-22zM974 683.5h22v1h-22zM974 697.5h22v2h-22zM996 585.5h23v1h-23zM996 717.5h23v1h-23z"/>
<path fill="#d8241e" d="M792 742.5h23v1h-23zM792 746.5h23v1h-23zM815 757.5h22v1h-22zM815 761.5h22v1h-22zM837 731.5h23v1h-23zM837 736.5h23v1h-23zM860 749.5h23v1h-23zM860 753.5h23v1h-23zM883 753.5h23v1h-23zM906 664.5h22v1h-22zM951 612.5h23v1h-23zM951 631.5h23v1h-23zM974 581.5h22v1h-22zM996 542.5h23v1h-23zM996 548.5h23v1h-23z"/>
<path fill="#d2241e" d="M792 743.5h23v1h-23zM815 760.5h22v1h-22zM837 734.5h23v2h-23zM837 739.5h23v1h-23zM860 748.5h23v1h-23zM860 752.5h23v1h-23zM906 656.5h22v1h-22zM928 706.5h23v1h-23zM974 604.5h22v1h-22zM996 544.5h23v1h-23z"/>
<path fill="#de241e" d="M792 744.5h23v1h-23zM792 747.5h23v1h-23zM837 737.5h23v2h-23zM837 740.5h23v2h-23zM860 747.5h23v1h-23zM860 750.5h23v1h-23zM883 754.5h23v1h-23zM906 653.5h22v1h-22zM906 655.5h22v1h-22zM906 657.5h22v4h-22zM906 663.5h22v1h-22zM906 665.5h22v1h-22zM906 667.5h22v2h-22zM906 671.5h22v1h-22zM928 677.5h23v2h-23zM928 681.5h23v1h-23zM928 683.5h23v1h-23zM928 686.5h23v1h-23zM928 688.5h23v2h-23zM928 692.5h23v1h-23zM928 694.5h23v1h-23zM928 699.5h23v1h-23zM928 701.5h23v2h-23zM928 705.5h23v1h-23zM951 607.5h23v3h-23zM951 613.5h23v1h-23zM951 620.5h23v2h-23zM951 625.5h23v1h-23zM951 627.5h23v1h-23zM951 633.5h23v2h-23zM951 637.5h23v1h-23zM951 642.5h23v1h-23zM974 566.5h22v1h-22zM974 569.5h22v1h-22zM974 574.5h22v2h-22zM974 577.5h22v1h-22zM974 580.5h22v1h-22zM974 588.5h22v1h-22zM974 598.5h22v1h-22zM996 541.5h23v1h-23zM996 547.5h23v1h-23zM996 549.5h23v2h-23z"/>
<path fill="#e4241e" d="M792 745.5h23v1h-23zM815 758.5h22v2h-22zM837 732.5h23v2h-23zM860 751.5h23v1h-23zM906 654.5h22v1h-22zM906 661.5h22v2h-22zM906 666.5h22v1h-22zM906 670.5h22v1h-22zM928 676.5h23v1h-23zM928 679.5h23v2h-23zM928 682.5h23v1h-23zM928 684.5h23v2h-23zM928 687.5h23v1h-23zM928 690.5h23v2h-23zM928 693.5h23v1h-23zM928 695.5h23v4h-23zM928 700.5h23v1h-23zM928 704.5h23v1h-23zM951 610.5h23v2h-23zM951 615.5h23v5h-23zM951 622.5h23v3h-23zM951 626.5h23v1h-23zM951 632.5h23v1h-23zM951 635.5h23v2h-23zM951 638.5h23v4h-23zM974 563.5h22v3h-22zM974 567.5h22v2h-22zM974 570.5h22v2h-22zM974 576.5h22v1h-22zM974 579.5h22v1h-22zM974 582.5h22v2h-22zM974 585.5h22v2h-22zM974 589.5h22v4h-22zM996 543.5h23v1h-23z"/>
<path fill="#cc241e" d="M792 748.5h23v1h-23z"/>
<path fill="#603c24" d="M792 749.5h23v1h-23zM928 543.5h23v1h-23zM996 558.5h23v1h-23zM996 662.5h23v1h-23z"/>
<path fill="#5a4224" d="M792 750.5h23v1h-23zM815 542.5h22v1h-22zM815 584.5h22v1h-22zM837 589.5h23v1h-23zM837 728.5h23v1h-23zM837 750.5h23v1h-23zM837 754.5h23v1h-23zM860 542.5h23v1h-23zM860 589.5h23v1h-23zM860 666.5h23v1h-23zM883 584.5h23v1h-23zM883 655.5h23v1h-23zM883 750.5h23v1h-23zM906 553.5h22v1h-22zM906 620.5h22v1h-22zM906 635.5h22v1h-22zM906 698.5h22v1h-22zM906 720.5h22v1h-22zM906 746.5h22v2h-22zM928 654.5h23v1h-23zM951 719.5h23v1h-23zM951 726.5h23v2h-23zM951 760.5h23v1h-23zM974 542.5h22v1h-22zM974 618.5h22v1h-22zM974 621.5h22v2h-22zM974 676.5h22v1h-22zM974 692.5h22v1h-22zM996 607.5h23v1h-23zM996 684.5h23v1h-23zM996 734.5h23v2h-23zM996 741.5h23v1h-23z"/>
<path fill="#429642" d="M792 753.5h23v1h-23zM815 710.5h22v1h-22zM906 742.5h22v1h-22zM951 716.5h23v1h-23zM974 732.5h22v1h-22zM996 635.5h23v1h-23zM996 724.5h23v1h-23zM996 733.5h23v1h-23z"/>
<path fill="#9c1818" d="M815 719.5h22v1h-22zM837 725.5h23v1h-23zM860 727.5h23v1h-23zM928 668.5h23v2h-23zM928 717.5h23v1h-23zM928 721.5h23v1h-23zM951 646.5h23v1h-23zM951 648.5h23v1h-23zM951 653.5h23v2h-23zM951 739.5h23v1h-23zM974 553.5h22v1h-22zM974 594.5h22v1h-22z"/>
<path fill="#781e18" d="M815 720.5h22v1h-22zM883 722.5h23v1h-23zM974 704.5h22v1h-22zM996 557.5h23v1h-23zM996 663.5h23v1h-23z"/>
<path fill="#901818" d="M815 721.5h22v1h-22zM837 720.5h23v1h-23zM860 746.5h23v1h-23zM883 732.5h23v2h-23zM906 566.5h22v2h-22zM906 679.5h22v1h-22zM928 631.5h23v1h-23zM951 543.5h23v1h-23zM951 557.5h23v1h-23zM951 647.5h23v1h-23zM951 650.5h23v2h-23zM951 683.5h23v2h-23zM974 682.5h22v1h-22zM996 586.5h23v1h-23z"/>
<path fill="#721212" d="M815 722.5h22v1h-22zM815 724.5h22v1h-22zM815 726.5h22v1h-22zM815 735.5h22v1h-22zM860 744.5h23v1h-23zM883 725.5h23v2h-23zM883 752.5h23v1h-23zM906 543.5h22v1h-22zM906 682.5h22v1h-22zM951 586.5h23v1h-23zM974 611.5h22v1h-22zM974 669.5h22v1h-22zM974 681.5h22v1h-22zM974 703.5h22v1h-22zM974 705.5h22v1h-22z"/>
<path fill="#781212" d="M815 723.5h22v1h-22zM860 719.5h23v1h-23zM860 722.5h23v1h-23zM883 751.5h23v1h-23zM906 554.5h22v1h-22zM906 558.5h22v1h-22zM906 681.5h22v1h-22zM928 607.5h23v1h-23zM928 609.5h23v1h-23zM928 629.5h23v1h-23zM951 555.5h23v2h-23zM951 681.5h23v1h-23zM974 544.5h22v1h-22zM974 547.5h22v2h-22zM974 550.5h22v1h-22zM974 612.5h22v1h-22zM974 680.5h22v1h-22zM996 555.5h23v1h-23z"/>
<path fill="#72241e" d="M815 725.5h22v1h-22zM815 731.5h22v2h-22zM883 727.5h23v1h-23zM906 576.5h22v1h-22zM906 602.5h22v1h-22zM906 615.5h22v2h-22zM928 558.5h23v2h-23zM928 605.5h23v1h-23zM928 648.5h23v1h-23zM928 659.5h23v1h-23zM928 739.5h23v1h-23zM928 741.5h23v1h-23zM928 753.5h23v1h-23zM951 562.5h23v2h-23zM974 635.5h22v2h-22zM974 708.5h22v1h-22zM996 601.5h23v1h-23zM996 655.5h23v1h-23z"/>
<path fill="#245436" d="M837 577.5h23v1h-23z"/>
<path fill="#961818" d="M837 597.5h23v1h-23zM860 721.5h23v1h-23zM906 556.5h22v1h-22zM906 678.5h22v1h-22zM928 666.5h23v1h-23zM928 718.5h23v3h-23zM951 541.5h23v1h-23zM951 643.5h23v3h-23zM974 551.5h22v2h-22zM974 557.5h22v1h-22zM974 560.5h22v1h-22zM974 665.5h22v3h-22zM996 559.5h23v1h-23z"/>
<path fill="#841818" d="M837 598.5h23v1h-23zM837 600.5h23v1h-23zM837 719.5h23v1h-23zM837 726.5h23v1h-23zM860 723.5h23v1h-23zM860 733.5h23v1h-23zM883 719.5h23v1h-23zM906 555.5h22v1h-22zM906 561.5h22v4h-22zM906 568.5h22v2h-22zM951 553.5h23v2h-23zM951 587.5h23v2h-23zM951 685.5h23v1h-23zM974 554.5h22v1h-22zM974 556.5h22v1h-22zM974 608.5h22v2h-22zM974 613.5h22v1h-22zM974 684.5h22v1h-22z"/>
<path fill="#a21818" d="M837 599.5h23v1h-23zM906 676.5h22v1h-22zM928 715.5h23v1h-23zM951 740.5h23v1h-23zM974 555.5h22v1h-22zM974 561.5h22v1h-22zM974 596.5h22v1h-22z"/>
<path fill="#6c1212" d="M837 721.5h23v1h-23zM883 731.5h23v1h-23zM906 545.5h22v1h-22zM951 564.5h23v1h-23zM996 552.5h23v2h-23zM996 603.5h23v1h-23z"/>
<path fill="#7e1212" d="M837 722.5h23v1h-23zM860 731.5h23v1h-23zM883 721.5h23v1h-23zM906 680.5h22v1h-22zM928 632.5h23v1h-23zM951 682.5h23v1h-23zM974 607.5h22v1h-22zM974 664.5h22v1h-22z"/>
<path fill="#7e1218" d="M837 723.5h23v1h-23zM837 727.5h23v1h-23zM860 732.5h23v1h-23zM928 606.5h23v1h-23z"/>
<path fill="#a81e18" d="M837 724.5h23v1h-23zM906 648.5h22v1h-22zM906 677.5h22v1h-22zM928 596.5h23v1h-23zM928 712.5h23v3h-23zM951 711.5h23v2h-23zM974 558.5h22v1h-22zM996 718.5h23v1h-23z"/>
<path fill="#246036" d="M860 577.5h23v1h-23z"/>
<path fill="#6c2a1e" d="M860 720.5h23v1h-23zM860 730.5h23v1h-23zM883 748.5h23v1h-23zM906 571.5h22v2h-22zM974 545.5h22v1h-22zM996 551.5h23v1h-23zM996 587.5h23v1h-23zM996 664.5h23v1h-23z"/>
<path fill="#8a1818" d="M883 724.5h23v1h-23zM906 544.5h22v1h-22zM906 565.5h22v1h-22zM928 630.5h23v1h-23zM951 542.5h23v1h-23zM951 589.5h23v1h-23zM951 591.5h23v1h-23zM951 649.5h23v1h-23zM951 652.5h23v1h-23zM951 686.5h23v1h-23zM974 549.5h22v1h-22zM974 562.5h22v1h-22zM996 560.5h23v1h-23z"/>
<path fill="#6c301e" d="M883 730.5h23v1h-23z"/>
<path fill="#5a3c24" d="M883 749.5h23v1h-23zM906 574.5h22v1h-22zM906 626.5h22v1h-22z"/>
<path fill="#cc1e1e" d="M883 755.5h23v1h-23zM906 641.5h22v1h-22zM906 643.5h22v1h-22zM928 707.5h23v1h-23zM974 603.5h22v1h-22z"/>
<path fill="#485a30" d="M906 573.5h22v1h-22zM906 702.5h22v1h-22zM906 735.5h22v1h-22zM951 596.5h23v1h-23zM951 664.5h23v1h-23zM951 700.5h23v1h-23zM974 730.5h22v1h-22zM974 733.5h22v1h-22zM974 755.5h22v2h-22zM996 575.5h23v1h-23zM996 661.5h23v1h-23z"/>
<path fill="#6c241e" d="M906 575.5h22v1h-22z"/>
<path fill="#663624" d="M906 585.5h22v2h-22zM906 728.5h22v1h-22zM928 563.5h23v1h-23zM928 598.5h23v1h-23zM928 638.5h23v2h-23zM928 671.5h23v1h-23zM951 656.5h23v1h-23zM951 694.5h23v2h-23zM974 648.5h22v1h-22zM974 712.5h22v1h-22zM974 715.5h22v1h-22zM974 742.5h22v1h-22zM974 760.5h22v2h-22zM996 624.5h23v2h-23zM996 679.5h23v2h-23zM996 744.5h23v2h-23zM996 750.5h23v1h-23z"/>
<path fill="#ba1e1e" d="M906 642.5h22v1h-22zM906 646.5h22v1h-22zM928 594.5h23v1h-23zM928 709.5h23v2h-23zM951 605.5h23v1h-23zM951 713.5h23v1h-23zM974 595.5h22v1h-22zM974 599.5h22v1h-22zM974 605.5h22v1h-22zM996 554.5h23v1h-23z"/>
<path fill="#b41e1e" d="M906 644.5h22v2h-22zM906 647.5h22v1h-22zM906 673.5h22v1h-22zM928 711.5h23v1h-23zM951 606.5h23v1h-23zM951 714.5h23v2h-23zM974 559.5h22v1h-22zM974 601.5h22v1h-22zM974 606.5h22v1h-22zM996 561.5h23v1h-23z"/>
<path fill="#c01e1e" d="M906 649.5h22v1h-22zM906 674.5h22v1h-22zM928 595.5h23v1h-23zM951 709.5h23v2h-23zM974 597.5h22v1h-22z"/>
<path fill="#4e542a" d="M906 650.5h22v1h-22z"/>
<path fill="#ea2424" d="M906 669.5h22v1h-22zM928 703.5h23v1h-23zM951 614.5h23v1h-23zM951 628.5h23v3h-23zM974 572.5h22v2h-22zM974 578.5h22v1h-22zM974 584.5h22v1h-22zM974 587.5h22v1h-22zM974 593.5h22v1h-22zM996 545.5h23v2h-23z"/>
<path fill="#c61e1e" d="M906 672.5h22v1h-22zM928 708.5h23v1h-23zM951 601.5h23v4h-23z"/>
<path fill="#ae1e18" d="M906 675.5h22v1h-22zM928 667.5h23v1h-23zM928 716.5h23v1h-23zM974 600.5h22v1h-22zM974 602.5h22v1h-22zM996 556.5h23v1h-23z"/>
<path fill="#429042" d="M906 716.5h22v1h-22zM996 712.5h23v1h-23z"/>
<path fill="#663024" d="M928 544.5h23v1h-23zM928 551.5h23v1h-23z"/>
<path fill="#b41e18" d="M928 593.5h23v1h-23zM951 741.5h23v1h-23z"/>
<path fill="#66301e" d="M974 610.5h22v1h-22zM996 604.5h23v1h-23z"/>
<path fill="#4eae48" d="M996 589.5h23v1h-23zM996 593.5h23v1h-23zM996 596.5h23v1h-23zM996 600.5h23v1h-23zM996 722.5h23v1h-23z"/>
<path fill="#48a242" d="M996 590.5h23v3h-23zM996 594.5h23v2h-23zM996 639.5h23v1h-23zM996 720.5h23v2h-23zM996 726.5h23v1h-23z"/>
<path fill="#48a842" d="M996 597.5h23v1h-23zM996 727.5h23v1h-23zM996 732.5h23v1h-23z"/>
<path fill="#429c42" d="M996 598.5h23v1h-23zM996 636.5h23v1h-23zM996 638.5h23v1h-23zM996 723.5h23v1h-23zM996 728.5h23v3h-23z"/>
<path fill="#48ae42" d="M996 599.5h23v1h-23zM996 725.5h23v1h-23z"/>
<path fill="#42a242" d="M996 731.5h23v1h-23z"/>
<rect x="792.0" y="729.5" width="227.0" height="1" fill="#9fd6a0" opacity="0.8"/>
</g>
<path d="M803.4,539.6 V537.9 H826.0 V539.6 M871.5,539.6 V537.9 H894.1 V539.6 M848.8,539.6 V535.4 H882.8 V537.9 M814.7,537.9 V533.0 H865.8 V535.4 M916.9,539.6 V534.5 H939.5 V539.6 M985.0,539.6 V530.2 H1007.6 V539.6 M962.2,539.6 V522.2 H996.3 V530.2 M928.2,534.5 V493.3 H979.3 V522.2 M840.2,533.0 V466.9 H953.7 V493.3" fill="none" stroke="#111" stroke-width="1"/>
<path d="M789.3,540.9 L777.5,540.9 L779.7,542.7 L779.7,549.8 L769.3,550.4 L769.3,551.3 L784.9,551.6 L784.9,553.5 L770.8,554.0 L772.3,560.9 L782.7,561.7 L784.1,569.1 L784.1,583.9 L776.7,586.2 L772.3,590.6 L766.3,593.6 L753.0,595.1 L761.9,600.2 L781.2,601.0 L781.2,603.2 L773.8,603.5 L775.2,609.1 L782.7,609.9 L782.7,626.9 L773.8,629.9 L770.8,637.3 L781.2,638.8 L778.2,641.0 L769.3,643.2 L766.3,647.7 L761.9,653.2 L754.5,654.2 L782.7,654.8 L782.7,659.8 L778.2,662.8 L773.8,665.8 L769.3,668.7 L761.9,671.7 L754.5,673.9 L754.5,675.4 L781.2,675.8 L772.3,676.9 L773.8,682.1 L784.1,682.8 L782.7,688.0 L781.2,704.3 L769.3,705.8 L769.3,708.8 L781.2,710.2 L775.2,713.2 L766.3,716.2 L758.9,719.1 L748.6,722.1 L748.6,723.3 L784.1,723.9 L784.1,725.8 L778.2,728.0 L769.3,731.0 L760.4,734.0 L757.4,736.9 L758.9,748.8 L766.3,757.7 L758.9,762.9 L789.3,763.6 L789.3,763.6Z" fill="#000"/>
<rect x="779.2" y="548.5" width="3.3" height="0.55" fill="#fff"/>
<rect x="770.5" y="554.8" width="4.2" height="0.55" fill="#fff"/>
<rect x="771.1" y="557.7" width="5.4" height="0.55" fill="#fff"/>
<rect x="771.6" y="560.2" width="11.4" height="0.55" fill="#fff"/>
<rect x="783.6" y="581.4" width="3.7" height="0.55" fill="#fff"/>
<rect x="773.5" y="588.9" width="6.5" height="0.55" fill="#fff"/>
<rect x="753.9" y="595.9" width="11.7" height="0.55" fill="#fff"/>
<rect x="757.4" y="597.9" width="3.1" height="0.55" fill="#fff"/>
<rect x="760.0" y="599.4" width="13.5" height="0.55" fill="#fff"/>
<rect x="773.5" y="604.3" width="6.8" height="0.55" fill="#fff"/>
<rect x="774.0" y="606.3" width="11.5" height="0.55" fill="#fff"/>
<rect x="782.2" y="619.7" width="5.0" height="0.55" fill="#fff"/>
<rect x="782.2" y="623.7" width="4.8" height="0.55" fill="#fff"/>
<rect x="772.9" y="630.7" width="8.0" height="0.55" fill="#fff"/>
<rect x="772.4" y="632.1" width="13.1" height="0.55" fill="#fff"/>
<rect x="771.6" y="634.0" width="12.2" height="0.55" fill="#fff"/>
<rect x="779.6" y="639.6" width="4.2" height="0.55" fill="#fff"/>
<rect x="774.5" y="641.8" width="12.3" height="0.55" fill="#fff"/>
<rect x="766.6" y="646.6" width="8.0" height="0.55" fill="#fff"/>
<rect x="765.2" y="648.5" width="8.3" height="0.55" fill="#fff"/>
<rect x="763.7" y="650.3" width="4.6" height="0.55" fill="#fff"/>
<rect x="781.0" y="660.6" width="4.0" height="0.55" fill="#fff"/>
<rect x="758.7" y="672.5" width="10.7" height="0.55" fill="#fff"/>
<rect x="773.1" y="681.4" width="3.1" height="0.55" fill="#fff"/>
<rect x="772.3" y="714.0" width="10.3" height="0.55" fill="#fff"/>
<rect x="755.6" y="719.9" width="3.3" height="0.55" fill="#fff"/>
<rect x="775.3" y="728.8" width="3.5" height="0.55" fill="#fff"/>
<rect x="770.5" y="730.4" width="3.6" height="0.55" fill="#fff"/>
<rect x="766.4" y="731.8" width="5.0" height="0.55" fill="#fff"/>
<rect x="762.4" y="733.1" width="8.1" height="0.55" fill="#fff"/>
<rect x="759.1" y="734.8" width="9.5" height="0.55" fill="#fff"/>
<rect x="757.0" y="737.7" width="3.0" height="0.55" fill="#fff"/>
<rect x="757.3" y="739.4" width="7.5" height="0.55" fill="#fff"/>
<rect x="757.6" y="741.8" width="7.1" height="0.55" fill="#fff"/>
<rect x="757.8" y="743.9" width="4.0" height="0.55" fill="#fff"/>
<rect x="759.1" y="749.6" width="7.1" height="0.55" fill="#fff"/>
<rect x="763.0" y="754.2" width="9.7" height="0.55" fill="#fff"/>
<rect x="765.0" y="756.7" width="3.0" height="0.55" fill="#fff"/>
<rect x="764.7" y="758.5" width="9.8" height="0.55" fill="#fff"/>
<rect x="761.7" y="760.6" width="12.8" height="0.55" fill="#fff"/>
<path d="M769.3,551.3 H733.0 V718.7 M733.0,718.4 H749.3 M753.7,597.3 H740.4 V649.9 H753.0 M737.4,624.0 V674.7 H754.5 M768.6,546.1 H758.2 V550.6 M779.7,543.2 H767.8 V548.6 M771.5,557.2 H765.6 V561.7 H771.5 M784.9,566.9 H775.2 V586.9 H777.5 M776.0,578.0 H771.5 V588.7 H773.8 M775.2,573.6 H769.3 V591.3 H773.0 M783.4,561.7 H766.3 V592.8 H769.3 M766.3,570.6 H762.6 V594.3 H767.1 M762.6,581.7 H758.9 V594.3 M758.9,588.4 H756.0 V595.1 M756.0,592.1 H753.7 V597.3 M781.9,604.4 H773.8 V609.1 H776.0 M783.4,609.1 H770.1 V632.9 H774.5 M770.1,621.0 H766.3 V638.8 H771.5 M766.3,629.9 H762.6 V641.0 H779.0 M770.1,643.2 H755.2 V653.6 H767.1 M755.2,647.7 H752.3 V655.0 M779.0,641.0 H761.9 V647.7 H767.1 M784.9,569.8 H777.5 V584.7 H783.4 M785.6,555.8 H779.7 V560.5 H784.1 M786.4,554.0 H773.0 V557.2 M780.4,543.6 H777.5 V549.5 H780.4 M783.4,612.1 H779.7 V627.7 H783.4 M781.2,632.1 H776.7 V637.3 H779.7 M779.7,644.0 H775.2 V652.1 M784.1,689.5 H779.7 V704.3 H782.7 M784.9,682.8 H773.8 V689.5 M781.9,676.9 H775.2 V680.6 M783.4,660.6 H772.3 V665.0 M770.1,667.2 H763.4 V673.2 M760.4,739.9 V748.8 M779.7,728.0 H763.4 V734.0 M732.2,659.8 H716.7 V755.9 H735.2 M740.4,642.0 V650.2 H753.7 M762.6,647.2 H753.0 V653.6 H755.2 M774.5,679.8 H768.6 V704.3 M768.6,693.9 H766.3 V714.7 M766.3,704.3 H764.1 V718.0 M777.5,701.0 H770.8 V705.8 H781.9 M777.5,701.0 V705.8 M776.0,711.0 H758.9 V719.1 M758.9,715.4 H748.6 V722.8 M739.7,751.0 H735.2 V762.1 H746.3 M742.6,746.6 H739.7 V755.5 H759.7 M747.1,742.1 H742.6 V751.0 H759.7 M758.2,736.9 H747.1 V747.3 H759.7 M761.2,733.7 H757.4 V739.9 H759.7 M759.7,748.8 H754.5 V752.1 H759.7 M750.0,759.2 H746.3 V763.2 H759.7 M767.1,757.4 H750.0 V761.0" fill="none" stroke="#000" stroke-width="1.3"/>
<text transform="translate(805.0,767) rotate(-90)" text-anchor="end" font-size="5.1" fill="#111" stroke="#111" stroke-width="0.15">normal05</text>
<text transform="translate(827.6,767) rotate(-90)" text-anchor="end" font-size="5.1" fill="#111" stroke="#111" stroke-width="0.15">normal01</text>
<text transform="translate(850.4,767) rotate(-90)" text-anchor="end" font-size="5.1" fill="#111" stroke="#111" stroke-width="0.15">normal03</text>
<text transform="translate(873.1,767) rotate(-90)" text-anchor="end" font-size="5.1" fill="#111" stroke="#111" stroke-width="0.15">normal02</text>
<text transform="translate(895.8,767) rotate(-90)" text-anchor="end" font-size="5.1" fill="#111" stroke="#111" stroke-width="0.15">normal04</text>
<text transform="translate(918.5,767) rotate(-90)" text-anchor="end" font-size="5.1" fill="#111" stroke="#111" stroke-width="0.15">cancer01</text>
<text transform="translate(941.1,767) rotate(-90)" text-anchor="end" font-size="5.1" fill="#111" stroke="#111" stroke-width="0.15">cancer02</text>
<text transform="translate(963.9,767) rotate(-90)" text-anchor="end" font-size="5.1" fill="#111" stroke="#111" stroke-width="0.15">cancer05</text>
<text transform="translate(986.6,767) rotate(-90)" text-anchor="end" font-size="5.1" fill="#111" stroke="#111" stroke-width="0.15">cancer04</text>
<text transform="translate(1009.2,767) rotate(-90)" text-anchor="end" font-size="5.1" fill="#111" stroke="#111" stroke-width="0.15">cancer03</text>
<defs><linearGradient id="lgr" x1="0" y1="0" x2="0" y2="1"><stop offset="0" stop-color="#ee2824"/><stop offset="0.3" stop-color="#b8202a"/><stop offset="1" stop-color="#4b1013"/></linearGradient><linearGradient id="lgg" x1="0" y1="0" x2="0" y2="1"><stop offset="0" stop-color="#26583a"/><stop offset="0.5" stop-color="#368f48"/><stop offset="1" stop-color="#54be4a"/></linearGradient></defs>
<rect x="1042.6" y="553.3" width="24" height="108" fill="url(#lgr)"/>
<rect x="1042.6" y="661.3" width="24" height="89.2" fill="url(#lgg)"/>
<rect x="1066.6" y="585.7" width="2.2" height="0.4" fill="#333"/>
<text x="1072.3" y="587.6" font-size="5" fill="#111" stroke="#111" stroke-width="0.12">2</text>
<rect x="1066.6" y="623.4" width="2.2" height="0.4" fill="#333"/>
<text x="1072.3" y="625.3" font-size="5" fill="#111" stroke="#111" stroke-width="0.12">1</text>
<rect x="1066.6" y="661.1" width="2.2" height="0.4" fill="#333"/>
<text x="1072.3" y="663.0" font-size="5" fill="#111" stroke="#111" stroke-width="0.12">0</text>
<rect x="1066.6" y="698.8" width="2.2" height="0.4" fill="#333"/>
<text x="1072.3" y="700.7" font-size="5" fill="#111" stroke="#111" stroke-width="0.12">-1</text>
<rect x="1066.6" y="736.5" width="2.2" height="0.4" fill="#333"/>
<text x="1072.3" y="738.4" font-size="5" fill="#111" stroke="#111" stroke-width="0.12">-2</text>
</svg>
</body></html>
